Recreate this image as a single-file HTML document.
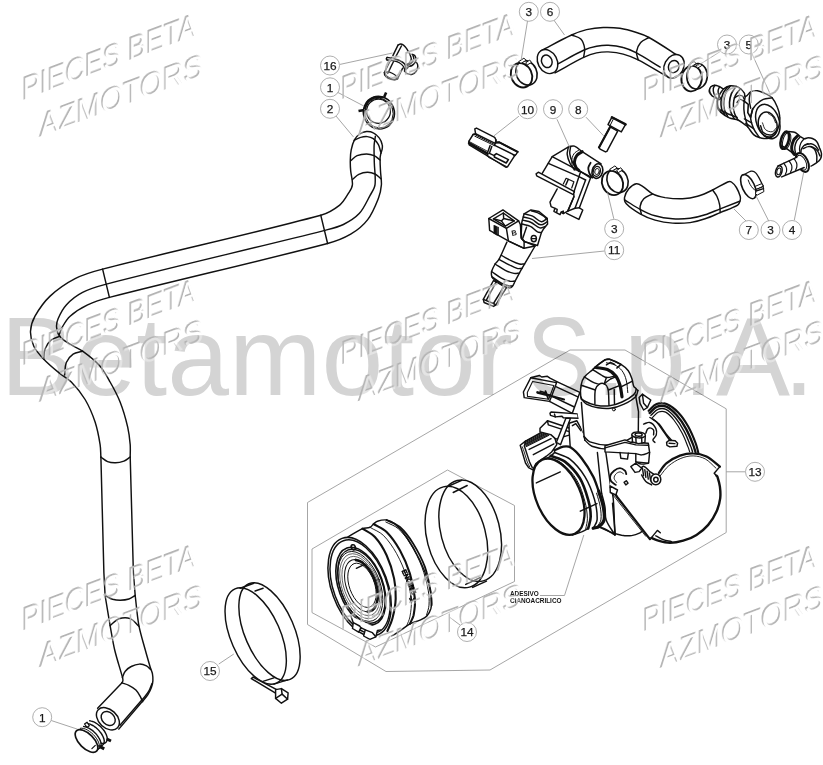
<!DOCTYPE html>
<html><head><meta charset="utf-8"><title>Betamotor</title>
<style>
html,body{margin:0;padding:0;background:#fff}
svg{display:block}
.l{fill:none;stroke:#111;stroke-width:1.45;stroke-linecap:round;stroke-linejoin:round}
.f{fill:#fff;stroke:#111;stroke-width:1.45;stroke-linecap:round;stroke-linejoin:round}
.t{fill:none;stroke:#333;stroke-width:0.6;stroke-linecap:round;stroke-linejoin:round}
.ld{fill:none;stroke:#9c9c9c;stroke-width:0.9}
.cc{fill:#fff;stroke:#9a9a9a;stroke-width:0.8}
.ct{font-family:"Liberation Sans",Arial,sans-serif;font-size:11.8px;fill:#1a1a1a;stroke:#1a1a1a;stroke-width:0.25;text-anchor:middle}
.wm{font-family:"Liberation Sans",Arial,sans-serif;font-size:32.6px}
.big{font-family:"Liberation Sans",Arial,sans-serif;font-size:108px;fill:#d4d4d4}
</style></head><body>
<svg width="823" height="765" viewBox="0 0 823 765">
<rect width="823" height="765" fill="#fff"/>
<path class="ld" d="M307.5 502.5 L570 350 L625 350 L726.2 408.8 L726.2 532.5 L490 670 L386 671.5 L307.5 624.5Z"/>
<path class="ld" d="M312 549 L447.5 470 L514.5 505.5 L514.5 581.5 L375.5 647 L312 612.6Z"/>

<path class="l" d="M380.9 153.2 C381.4 151.8 382 150.4 382.2 148.9 C382.4 147.5 382.6 146 382.2 144.7 C381.6 142.3 380.7 139.8 379.2 137.9 C377.7 135.8 375.6 133.9 373.3 132.8 C371.2 131.7 368.8 131.3 366.5 131.5 C364.1 131.7 361.7 132.7 359.7 134 C357.6 135.4 355.8 137.4 354.6 139.6 C352.9 142.7 351.9 146.3 351.2 149.8 C350.4 153.4 350.4 157.1 350.3 160.8 C350.2 164.2 350.4 167.6 350.7 171 C351.1 175.7 352.9 180.3 352.4 184.9 C352.2 187.8 350.3 190.4 348.7 192.9 C346 197.2 343.7 201.9 339.7 205.1 C334.1 209.5 327.7 213.4 320.8 215.3 C248.5 234.8 175.2 250.4 102.6 269.1 C93.2 271.5 83.7 274.2 75.1 278.6 C66 283.3 57.5 289.2 50.1 296.1 C44 301.8 39.1 308.9 35 316.2 C32.5 320.7 30.8 325.9 30.5 331.2 C30.3 336.3 31.6 341.6 33.8 346.2 C36.1 351.1 40 355.2 43.8 359.2 C48.8 364.5 54.5 369.1 60.1 373.7 C63.7 376.7 68.1 378.7 71.3 382 C76.5 387.3 81.3 393.1 85.1 399.5 C89.3 406.6 92.5 414.3 95.1 422 C97.5 429.3 98.9 437 100.1 444.6 C100.8 448.7 100.6 452.9 100.9 457.1"/>
<path class="l" d="M100.9 457.1 L103.9 573 L105.1 595.5"/>
<path class="l" d="M105.1 595.5 C106.8 605.5 108.4 615.6 110.1 625.6 C111.6 633.7 112.8 641.9 114.7 650 C116.9 659.1 119.9 668 122.4 677.1 C122.7 678.3 123.1 679.6 122.9 680.8 C122.9 681.6 122.2 682.2 121.8 682.9"/>
<path class="l" d="M121.8 682.9 L97.6 708.2"/>
<path class="l" d="M375.4 136.2 C375 139.3 374.3 142.4 374.1 145.5 C373.9 151.2 374.2 156.9 374.3 162.5 C374.5 170 375.9 177.5 375 184.9 C374.5 188.7 372 192 370.1 195.3 C366.7 201.5 364 208.3 359.2 213.6 C354.8 218.3 349.1 221.7 343.4 224.5 C337.3 227.4 330.5 228.9 323.9 230.6 C251.5 248.8 178.7 265.6 106.4 284.1 C98.3 286.2 90 288.5 82.6 292.4 C76.5 295.5 71 299.9 66.3 304.9 C62.7 308.8 60.2 313.7 58.1 318.7 C56.9 321.4 56.3 324.5 56.6 327.4 C56.8 330.5 57.6 333.8 59.6 336.2 C62.3 339.6 66.4 341.8 70.1 344.2 C74.1 346.8 78.7 348.4 82.6 351.2 C88.8 355.7 95 360.5 100.1 366.2 C104.3 370.9 107.1 376.5 110.1 382 C113.8 388.5 117.4 395.1 120.1 402 C123.3 410.1 125.7 418.6 127.7 427.1 C129 432.8 129.7 438.7 130.2 444.6 C130.5 448.7 130.2 452.9 130.2 457.1"/>
<path class="l" d="M380.9 153.2 C380.6 154.9 380.1 156.6 380.1 158.3 C380 162.5 380.3 166.8 380.5 171 C380.7 175.7 381.7 180.3 381.4 184.9 C381 189.3 380.2 193.7 378.6 197.8 C375.6 205.3 372.6 213.2 367.7 219.6 C363.1 225.6 357.1 230.4 350.7 234.2 C343.5 238.4 335.6 241.4 327.6 243.5 C255.1 262.4 182 278.8 109.4 297.4 C101.9 299.3 94.5 301.6 87.6 304.9 C81.3 307.9 75.3 311.6 70.1 316.2 C66.6 319.2 64.4 323.5 62.1 327.4 C60.7 329.7 60.1 332.3 59.1 334.7"/>
<path class="l" d="M130.2 457.1 L133.4 573 L135.2 595.5"/>
<path class="l" d="M135.2 595.5 C136.4 605.5 137.1 615.6 138.9 625.6 C140.5 633.8 143.1 641.9 145.3 650 C146.8 655.5 148.4 661 150 666.5 C150.7 668.8 151.8 671.1 152.4 673.5 C152.8 675.8 153.1 678.2 152.9 680.6 C152.8 683 152.2 685.4 151.4 687.6 C150.5 690.1 149.3 692.5 147.9 694.7 C146.5 696.9 144.6 698.8 142.9 700.8"/>
<path class="l" d="M142.9 700.8 L118.8 729.1"/>
<path class="l" d="M152 683.5 C150.9 686.1 150.2 688.8 148.8 691.2 C147.4 693.7 145.4 695.9 143.5 698.2 C143 698.9 142.4 699.4 141.8 700"/>
<path class="l" d="M141.8 700 L120 725.3"/>
<path class="l" d="M320.8 215.3 L327.6 243.5"/>
<path class="l" d="M102.6 269.1 L109.4 297.4"/>
<path class="l" d="M350.7 160.8 C352.9 159.1 354.6 156.8 357.1 155.7 C360 154.5 363.3 154 366.5 154 C369.1 154 371.7 154.7 374.1 155.7 C376.4 156.7 378.1 158.6 380.1 160"/>
<path class="l" d="M352.4 179.5 C354.6 177.8 356.4 175.6 358.8 174.4 C361.4 173.2 364.4 172.4 367.3 172.3 C369.9 172.2 372.6 172.9 375 174 C377.3 175.1 378.9 177.1 380.9 178.7"/>
<path class="l" d="M354.1 140.4 C356.3 139.4 358.3 138.1 360.5 137.4 C362.7 136.8 365 136.4 367.3 136.6 C369.4 136.8 371.6 137.5 373.3 138.7 C375.4 140.3 377.1 142.4 378.4 144.7 C379.6 146.9 379.9 149.5 380.7 151.9"/>
<path class="l" d="M43.8 359.2 C44.2 355.7 43.8 352 45.1 348.7 C46.4 345.3 48.6 342.2 51.3 339.9 C53.8 337.9 57.2 337.4 60.1 336.2"/>
<path class="l" d="M64.6 375 C65.2 370.8 64.7 366.4 66.3 362.5 C67.7 359.2 70.2 356.2 73.1 354.2 C75.8 352.3 79.4 352.2 82.6 351.2"/>
<path class="l" d="M100.9 457.1 C103.1 458.6 105.1 460.6 107.6 461.6 C110.1 462.6 112.9 462.9 115.6 462.8 C118.5 462.8 121.3 462.1 123.9 461.1 C126.2 460.2 128.1 458.4 130.2 457.1"/>
<path class="l" d="M105.1 595.5 C107.6 596.8 110 598.4 112.6 599.3 C115 600 117.6 600.3 120.1 600.3 C123.1 600.2 126.1 599.9 128.9 599 C131.2 598.3 133.1 596.7 135.2 595.5"/>
<path class="l" d="M110.1 625.6 C113.1 623.3 115.4 620 118.9 618.8 C122.4 617.6 126.6 617.2 130.2 618.6 C133.8 619.9 136 623.7 138.9 626.3"/>
<path class="l" d="M122.4 677.6 C123.3 675.5 123.8 673 125.3 671.2 C126.9 669.2 128.9 667.6 131.2 666.5 C133.7 665.2 136.6 664.2 139.4 664.1 C141.8 664 144.3 664.8 146.5 665.9 C148.1 666.7 149.2 668.2 150.6 669.4"/>
<path class="l" d="M121.8 682.9 C124.1 683.7 126.6 684.2 128.8 685.3 C131.4 686.6 133.9 688 135.9 690 C137.9 692 139.2 694.6 140.6 697.1 C141.4 698.5 141.9 700.2 142.6 701.8"/>
<ellipse class="l" cx="107.9" cy="718.8" rx="9.1" ry="13.2" transform="rotate(-47.1 107.9 718.8)"/>
<ellipse class="l" cx="108.2" cy="718.5" rx="6.1" ry="7.9" transform="rotate(-45 108.2 718.5)"/>

<path class="f" d="M384.4 72.5 C386.6 67 391 62.4 392.3 56.7 C392.7 54.7 389 59.3 387.1 60 C386.7 60.2 386.4 59.3 386.4 58.8 C386.4 58.3 386.6 57.6 387.1 57.4 C388.8 56.6 391.3 57.4 392.6 56 C395.3 53 395.8 48.5 398 45.1 C398.5 44.4 399.6 44 400.5 44 C401.6 44 402.6 44.5 403.5 45.1 C404.6 45.9 405.5 47 406.3 48.2 C407.5 49.9 408.1 52.1 409.6 53.6 C410.2 54.2 411.2 53.9 412 54.2 C413 54.6 414.1 54.8 414.8 55.6 C415.5 56.5 415.9 57.8 416 59.1 C416.1 60.1 415.1 61.1 415.4 62.1 C415.5 62.7 416.6 62.5 416.9 63 C417.5 64 417.9 65.2 417.8 66.4 C417.7 68.1 417.3 69.9 416.3 71.2 C415.2 72.6 413.7 73.8 412 74.3 C410.4 74.7 408.7 74.3 407.2 73.7 C406 73.1 405 72.1 404.4 70.9 C404.1 70.4 405.1 69.6 404.7 69.1 C404.3 68.5 403.1 67.6 402.6 68.2 C400.3 71.4 399.9 75.7 397.6 78.8 C396.8 79.9 395.1 80 393.8 79.9 C391.7 79.7 389.6 79 387.7 77.9 C386.5 77.2 385.5 76.1 384.8 74.9 C384.4 74.2 384.1 73.2 384.4 72.5Z" style="stroke:none"/>
<path class="l" d="M384.4 72.5 L391.9 57.4"/>
<path class="l" d="M392.9 55.6 L398 45.1"/>
<path class="l" d="M398 45.1 C398.9 44.7 399.6 44 400.5 44 C401.6 44 402.6 44.5 403.5 45.1 C404.6 45.9 405.5 47 406.3 48.2 C407.5 49.9 408.5 51.8 409.6 53.6"/>
<path class="l" d="M387.7 73.4 L393.5 61.5"/>
<path class="l" d="M395.6 57 L401.4 46"/>
<path class="l" d="M397.6 78.8 L402.6 68.2"/>
<path class="l" d="M384.4 72.5 C384.5 73.4 384.3 74.4 384.8 75.2 C385.6 76.4 386.8 77.4 388 78 C389.8 79 391.8 79.7 393.8 79.9 C395.1 80 396.3 79.2 397.6 78.8"/>
<ellipse class="l" cx="391.1" cy="75.6" rx="6.2" ry="2.6" transform="rotate(25 391.1 75.6)" style="stroke-width:1.2"/>
<path class="l" d="M387.1 57.4 C389.1 57.7 391.2 57.9 393.2 58.4 C395.3 58.9 397.3 59.4 399.3 60.3 C401.2 61.3 403.3 62.3 404.7 63.9 C405.6 64.9 405.5 66.4 405.8 67.6" style="stroke-width:1.5"/>
<path class="l" d="M387.1 60 C389.3 60.3 391.6 60.4 393.8 60.9 C395.7 61.3 397.6 61.8 399.3 62.7 C400.8 63.6 402.2 64.7 403.2 66.1 C404.1 67.2 404.2 68.7 404.7 70" style="stroke-width:1.3"/>
<path class="l" d="M387.1 57.4 C386.8 57.9 386.3 58.2 386.3 58.8 C386.3 59.3 386.8 59.6 387.1 60"/>
<path class="l" d="M405.8 67.6 L404.7 70"/>
<path class="l" d="M409.6 53.6 C410.2 55.4 411.3 57.2 411.3 59.1 C411.3 60.4 410.5 61.7 409.6 62.7 C408.8 63.6 407.6 63.9 406.6 64.6"/>
<path class="l" d="M412 54.2 C412.9 54.7 414.1 54.8 414.8 55.6 C415.5 56.5 415.9 57.8 416 59.1 C416 60.2 415.8 61.3 415.2 62.2 C414.4 63.5 413.3 64.7 412 65.5 C411 66.1 409.6 66.1 408.4 66.4" style="stroke-width:1.5"/>
<path class="l" d="M412.9 55.3 C413.2 56.6 414.1 57.8 413.8 59.1 C413.5 60.7 412.3 62.2 411.1 63.3 C410.2 64.2 408.9 64.5 407.8 65"/>
<path class="l" d="M415.4 62.1 C415.9 62.4 416.6 62.5 416.9 63 C417.5 64 417.9 65.2 417.8 66.4 C417.7 68.1 417.3 69.9 416.3 71.2 C415.2 72.6 413.7 73.8 412 74.3 C410.4 74.7 408.7 74.3 407.2 73.7 C406 73.1 405.3 71.8 404.4 70.9"/>
<path class="l" d="M406.6 64.6 C407.2 65.2 408.4 65.5 408.4 66.4 C408.4 67.4 407.3 68.1 406.6 68.8 C406 69.3 405.3 69.6 404.7 70"/>

<ellipse class="l" cx="378.9" cy="112.7" rx="15.4" ry="16.4" transform="rotate(-20 378.9 112.7)" style="stroke-width:1.6"/>
<ellipse class="l" cx="379.1" cy="113" rx="14" ry="15" transform="rotate(-20 379.1 113)" style="stroke-width:0.9"/>
<ellipse class="l" cx="378.5" cy="111.2" rx="11.9" ry="12.1" transform="rotate(0 378.5 111.2)" style="stroke-width:1.3"/>
<path class="l" d="M384.2 97 L386.1 92.6" style="stroke-width:2.6;stroke-linecap:butt"/>
<path class="l" d="M364.5 109.9 L358.5 111.1" style="stroke-width:2.6;stroke-linecap:butt"/>
<path class="l" d="M364.9 108.1 C366 105.8 366.6 103.1 368.3 101.3 C370 99.4 372.3 98.1 374.7 97.4 C377.3 96.7 380.1 97.4 382.7 97.4" style="stroke-width:2.2"/>

<path class="l" d="M89.7 720.8 C90.2 720.9 90.8 720.9 91.3 721.1 C91.9 721.2 92.4 721.4 93 721.6 C93.6 721.8 94.2 722.1 94.8 722.4 C95.4 722.7 96 723.1 96.6 723.5 C97.2 723.9 97.8 724.3 98.4 724.8 C99 725.2 99.6 725.7 100.2 726.2 C100.7 726.8 101.3 727.3 101.8 727.9 C102.3 728.4 102.8 729 103.3 729.6 C103.7 730.2 104.2 730.8 104.6 731.4 C104.9 732 105.3 732.6 105.6 733.2 C105.9 733.8 106.2 734.4 106.4 735 C106.6 735.6 106.8 736.2 107 736.8 C107.1 737.3 107.2 737.8 107.2 738.4 C107.2 738.8 107.2 739.3 107.1 739.8 C107.1 740.2 107 740.6 106.8 741 C106.6 741.4 106.4 741.7 106.2 742 C105.9 742.3 105.6 742.6 105.3 742.8 C104.9 743 104.5 743.1 104.1 743.2 C103.7 743.4 103.2 743.4 102.8 743.4 C102.3 743.4 101.8 743.3 101.3 743.3" style="stroke-width:1.4"/>
<path class="l" d="M86.7 723.4 C87.2 723.4 87.8 723.5 88.3 723.6 C88.9 723.7 89.5 723.9 90 724.1 C90.6 724.4 91.2 724.7 91.8 725 C92.5 725.3 93.1 725.6 93.7 726 C94.3 726.4 94.9 726.9 95.5 727.3 C96.1 727.8 96.6 728.3 97.2 728.8 C97.8 729.3 98.3 729.9 98.8 730.4 C99.3 731 99.8 731.6 100.3 732.2 C100.8 732.7 101.2 733.3 101.6 734 C102 734.6 102.3 735.2 102.6 735.8 C102.9 736.4 103.2 737 103.4 737.6 C103.7 738.2 103.8 738.7 104 739.3 C104.1 739.8 104.2 740.4 104.2 740.9 C104.3 741.4 104.2 741.9 104.2 742.3 C104.1 742.8 104 743.2 103.8 743.6 C103.7 743.9 103.5 744.3 103.2 744.6 C102.9 744.9 102.6 745.1 102.3 745.3 C102 745.5 101.6 745.7 101.2 745.8 C100.7 745.9 100.3 746 99.8 746 C99.3 746 98.8 745.9 98.3 745.9" style="stroke-width:1.4"/>
<path class="l" d="M83.6 726.5 C84.1 726.6 84.7 726.6 85.2 726.8 C85.8 726.9 86.4 727.1 87 727.3 C87.6 727.6 88.2 727.9 88.8 728.2 C89.5 728.5 90.1 728.9 90.7 729.3 C91.3 729.7 92 730.2 92.6 730.6 C93.2 731.1 93.8 731.6 94.3 732.2 C94.9 732.7 95.4 733.3 96 733.9 C96.5 734.5 97 735.1 97.4 735.7 C97.9 736.3 98.3 736.9 98.7 737.6 C99.1 738.2 99.4 738.8 99.7 739.4 C100 740 100.3 740.6 100.5 741.3 C100.7 741.8 100.8 742.4 100.9 743 C101 743.5 101.1 744 101.1 744.6 C101.1 745.1 101 745.5 100.9 746 C100.8 746.4 100.7 746.8 100.5 747.2 C100.3 747.5 100 747.8 99.7 748.1 C99.4 748.4 99 748.6 98.7 748.7 C98.3 748.9 97.8 749 97.4 749.1 C96.9 749.1 96.4 749.1 95.9 749.1 C95.3 749.1 94.8 748.9 94.2 748.8" style="stroke-width:1.4"/>
<path class="l" d="M80.3 728.3 C80.8 728.2 81.3 728.2 81.9 728.2 C82.4 728.2 83 728.3 83.6 728.5 C84.2 728.6 84.9 728.9 85.5 729.1 C86.1 729.4 86.8 729.7 87.4 730 C88.1 730.4 88.8 730.8 89.4 731.3 C90.1 731.7 90.7 732.2 91.3 732.7 C92 733.3 92.6 733.8 93.2 734.4 C93.7 735 94.3 735.6 94.8 736.2 C95.4 736.9 95.9 737.5 96.3 738.2 C96.7 738.8 97.2 739.5 97.5 740.1 C97.9 740.8 98.2 741.4 98.5 742.1 C98.7 742.7 98.9 743.3 99.1 744 C99.2 744.5 99.3 745.1 99.4 745.7 C99.4 746.2 99.4 746.8 99.3 747.3 C99.2 747.7 99.1 748.2 98.9 748.6 C98.7 749 98.5 749.3 98.2 749.6 C97.9 749.9 97.5 750.2 97.1 750.3 C96.7 750.5 96.3 750.7 95.8 750.7 C95.3 750.8 94.8 750.8 94.3 750.8 C93.7 750.8 93.1 750.6 92.5 750.5" style="stroke-width:1.0"/>
<ellipse class="f" cx="86.5" cy="741" rx="14.3" ry="7.2" transform="rotate(45 86.5 741)" style="stroke-width:1.7"/>
<path class="f" d="M84.5 724 L87 722.2 L89.3 725.7 L87 727.4Z" style="stroke-width:1.2"/>
<path class="l" d="M106.6 738.9 L111 741" style="stroke-width:3;stroke-linecap:butt"/>
<path class="l" d="M100.1 746.6 L104.2 748.9" style="stroke-width:3;stroke-linecap:butt"/>
<path class="l" d="M91.9 748.7 L95.3 745.3" style="stroke-width:1.2"/>

<path class="f" d="M540.8 50.8 C551.1 45.5 561.1 39.8 571.6 35 C576.4 32.7 581.4 30.9 586.6 29.6 C592 28.4 597.7 27.7 603.2 27.5 C608.8 27.3 614.4 27.5 619.9 28.3 C625.5 29.2 631.1 30.8 636.5 32.5 C640.8 33.8 645.1 35.3 649 37.5 C659.7 43.5 675.3 45.8 680.2 57.1 C683.4 64.3 673.6 75.3 665.7 75.8 C655.1 76.6 647.6 64.8 638.2 59.9 C633.4 57.5 628.4 55.5 623.2 54.1 C618.3 52.8 613.3 52.2 608.2 51.9 C604.3 51.8 600.4 52.1 596.6 52.9 C592.1 53.9 587.7 55.5 583.6 57.4 C573.8 62.1 564.5 67.8 555 72.9" style="stroke:none"/>
<path class="l" d="M540.8 50.8 C551.1 45.5 561.1 39.8 571.6 35 C576.4 32.7 581.4 30.9 586.6 29.6 C592 28.4 597.7 27.7 603.2 27.5 C608.8 27.3 614.4 27.5 619.9 28.3 C625.5 29.2 631.1 30.8 636.5 32.5 C640.8 33.8 645.1 35.3 649 37.5 C659.7 43.5 669.8 50.5 680.2 57.1"/>
<path class="l" d="M665.7 75.8 C656.5 70.5 647.6 64.8 638.2 59.9 C633.4 57.5 628.4 55.5 623.2 54.1 C618.3 52.8 613.3 52.2 608.2 51.9 C604.3 51.8 600.4 52.1 596.6 52.9 C592.1 53.9 587.7 55.5 583.6 57.4 C573.8 62.1 564.5 67.8 555 72.9"/>
<path class="l" d="M557.5 64.1 C566.3 59.4 575 54.1 584.1 50 C588 48.2 592.3 47.1 596.6 46.3 C600.4 45.6 604.3 45.1 608.2 45.3 C613.3 45.5 618.3 46.1 623.2 47.5 C627.9 48.7 632.3 50.7 636.5 52.9 C644.7 57.3 652.3 62.4 660.2 67.1"/>
<path class="l" d="M571.6 35 C574.7 36.4 578.4 36.7 580.8 39.1 C583.1 41.5 584.1 45 584.6 48.3 C585.1 51.3 583.9 54.4 583.6 57.4"/>
<path class="l" d="M649 37.5 C646.2 39.1 642.8 40 640.7 42.5 C638.5 45 637 48.3 636.5 51.6 C636.1 54.4 637.6 57.2 638.2 59.9"/>
<ellipse class="f" cx="547.5" cy="61.6" rx="12.6" ry="9.6" transform="rotate(62 547.5 61.6)"/>
<ellipse class="l" cx="546.8" cy="61.3" rx="6.4" ry="5.2" transform="rotate(70 546.8 61.3)"/>
<ellipse class="f" cx="674" cy="66.3" rx="12.4" ry="9.6" transform="rotate(118 674 66.3)"/>
<ellipse class="l" cx="673.7" cy="66.6" rx="6.2" ry="5.2" transform="rotate(-70 673.7 66.6)"/>

<ellipse class="l" cx="526.5" cy="72.9" rx="10.3" ry="12.6" transform="rotate(-25 526.5 72.9)" style="stroke-width:1.6"/>
<ellipse class="l" cx="521.5" cy="75.3" rx="10.3" ry="12.6" transform="rotate(-25 521.5 75.3)" style="stroke-width:1.9"/>
<path class="f" d="M518.9 61.5 L523.9 58.2 L526.2 60.3 L521.2 63.2Z" style="stroke-width:1.0"/>
<path class="f" d="M525.9 62.7 L529.7 60 L531.5 62.4 L527.7 64.7Z" style="stroke-width:1.0"/>
<ellipse class="l" cx="697.1" cy="76.3" rx="10.2" ry="12.8" transform="rotate(6 697.1 76.3)" style="stroke-width:1.6"/>
<ellipse class="l" cx="691.6" cy="78.6" rx="10.2" ry="12.8" transform="rotate(6 691.6 78.6)" style="stroke-width:1.9"/>
<path class="f" d="M689 64.8 L694 61.5 L696.3 63.6 L691.3 66.5Z" style="stroke-width:1.0"/>
<path class="f" d="M696 66 L699.8 63.3 L701.6 65.7 L697.8 68Z" style="stroke-width:1.0"/>
<ellipse class="l" cx="617.5" cy="180.6" rx="10.3" ry="12.4" transform="rotate(-25 617.5 180.6)" style="stroke-width:1.6"/>
<ellipse class="l" cx="612.5" cy="183" rx="10.3" ry="12.4" transform="rotate(-25 612.5 183)" style="stroke-width:1.9"/>
<path class="f" d="M609.9 169.2 L614.9 165.9 L617.2 168 L612.2 170.9Z" style="stroke-width:1.0"/>
<path class="f" d="M616.9 170.4 L620.7 167.7 L622.5 170.1 L618.7 172.4Z" style="stroke-width:1.0"/>

<path class="l" d="M743.7 174.9 C746.1 173.7 748.3 172 751 171.2 C752 170.9 753.4 171.2 754.3 171.8 C755.8 172.8 757 174.3 757.9 175.8 C759.4 178.1 760.4 180.7 761.6 183.1 C762.1 184.2 762.7 185.2 763.3 186.2" style="stroke-width:1.3"/>
<ellipse class="l" cx="748.4" cy="186.6" rx="6.1" ry="13" transform="rotate(-25 748.4 186.6)" style="stroke-width:1.6"/>
<path class="l" d="M748.2 180 C748.8 181.5 749.3 183 750 184.3 C750.9 185.8 751.9 187.3 753.1 188.6 C753.8 189.3 754.7 189.8 755.5 190.4" style="stroke-width:1.0"/>
<path class="f" d="M755.5 186.2 L761.6 183.7 L763.3 186.2 L756.7 189.2Z" style="stroke-width:1.0"/>
<path class="f" d="M756.7 189.2 L763.3 186.7 L763.9 191.6 L757.2 195.1 L755.8 194Z" style="stroke-width:1.0"/>
<path class="l" d="M756.7 190.7 L763.5 188.6"/>

<path class="f" d="M709.4 89.7 C709.7 88.7 710 87.5 710.8 86.8 C711.9 85.9 713.3 85.4 714.7 85.3 C716.4 85.3 718 86 719.6 86.6 C721 87.2 722 88.8 723.5 88.9 C724.4 89 725 87.7 725.9 87.3 C727.3 86.7 728.7 86 730.3 85.8 C732.2 85.7 734.2 85.9 736.1 86.4 C737.7 86.9 739.2 87.7 740.5 88.7 C742 90 743.3 91.5 744.4 93.1 C745 94.1 744.2 96.8 745.3 96.5 C747.7 96.1 748.6 92.9 750.7 91.9 C752.8 90.9 755.2 90.4 757.5 90.7 C760.2 91 762.8 92.4 765.3 93.6 C767.7 94.8 770.3 95.7 772.1 97.7 C774.5 100.4 776.1 103.8 777.4 107.2 C778.7 110.3 779.6 113.6 779.8 116.9 C780.1 119.9 779.7 122.9 778.9 125.7 C778 128.8 777.1 132.1 775 134.4 C773 136.6 770.1 137.9 767.2 138.5 C764.6 139 761.9 138.3 759.4 137.5 C757.3 136.9 755.2 136.1 753.6 134.6 C751.2 132.4 749.9 129.3 747.8 126.9 C746.7 125.7 745.2 124.9 743.9 123.9 C742 122.6 740.2 120.9 738 120 C735.3 118.9 732 119.2 729.3 117.9 C726.1 116.5 723.2 114.4 720.6 112.1 C719.1 110.8 717.6 109.1 717.2 107.2 C716.5 104.7 716.7 101.9 717.4 99.4 C717.7 98.8 720 100 719.6 99.4 C718.9 98.6 717.6 98.9 716.7 98.5 C715 97.6 713.2 96.8 711.8 95.6 C710.8 94.6 709.9 93.4 709.4 92.2 C709.1 91.4 709.2 90.5 709.4 89.7Z"/>
<path class="l" d="M714.7 85.3 C714.2 86.5 713.4 87.5 713.3 88.7 C713.1 90.4 713.4 92.1 713.9 93.6 C714.6 95.4 715.8 96.8 716.7 98.5"/>
<path class="l" d="M719.6 86.6 C719.1 88 718.2 89.3 718.1 90.7 C718 92.3 718.3 94 718.8 95.6 C719.3 96.9 720.3 97.9 721 99.1"/>
<path class="l" d="M711 86.8 C710.6 87.8 709.6 88.7 709.7 89.7 C709.8 91.8 711.1 93.6 711.8 95.6" style="stroke-width:0.9"/>
<path class="l" d="M723.5 88.9 C722.2 90.8 720.5 92.5 719.6 94.6 C718.6 96.7 717.9 99 717.6 101.4 C717.4 103.3 717.5 105.4 718.1 107.2 C718.7 109 720.1 110.5 721 112.1"/>
<path class="l" d="M727.4 87 C725.9 89.2 724 91.2 723 93.6 C721.9 96.1 721.3 98.7 721 101.4 C720.8 104 721 106.7 721.7 109.2 C722.3 111.2 723.9 112.9 724.9 114.8" style="stroke-width:1.6"/>
<path class="l" d="M730.3 86 C728.8 88.2 726.9 90.2 725.9 92.6 C724.8 95.2 724.2 98.1 724 100.9 C723.7 103.6 723.8 106.5 724.4 109.2 C725.1 111.9 726.7 114.2 727.8 116.7"/>
<path class="l" d="M736.1 86.4 C734.6 88.8 732.5 91 731.4 93.6 C730.3 96.4 729.7 99.4 729.5 102.4 C729.3 105.3 729.7 108.3 730.5 111.1 C731.2 113.8 732.9 116.2 734.2 118.7" style="stroke-width:1.6"/>
<path class="l" d="M740.5 88.7 C738.8 91 736.5 93 735.3 95.6 C734.1 98.3 733.5 101.3 733.4 104.3 C733.2 107.2 733.5 110.2 734.4 113 C735.1 115.6 736.8 117.7 738 120"/>
<path class="l" d="M734.2 98 C735.6 97.2 736.9 95.9 738.5 95.6 C739.8 95.3 741.3 95.3 742.4 96 C743.5 96.8 743.7 98.3 744.4 99.4"/>
<path class="l" d="M737.1 102.4 C738 101.4 738.7 99.7 740 99.4 C741.3 99.2 742.5 100.4 743.7 100.9"/>
<path class="l" d="M718.6 109.2 L728.3 114 L737.1 117.4"/>
<path class="l" d="M745.3 96.5 C744.9 99.1 744 101.7 743.9 104.3 C743.7 107.5 743.8 110.8 744.4 114 C745.1 118.4 746.6 122.6 747.8 126.9"/>
<path class="l" d="M743.9 100.9 L748.3 104.3 L747.8 112.6 L750.5 117.4 L752.6 109.2" style="stroke-width:1.6"/>
<path class="l" d="M750.7 91.9 C750.2 94.4 749.2 96.9 749.2 99.4 C749.2 102.4 750.2 105.3 750.7 108.2"/>
<path class="l" d="M772.1 97.7 C769.2 98.3 766.1 98.3 763.3 99.4 C760.8 100.5 758.6 102.4 756.5 104.3 C755 105.7 753.9 107.5 752.6 109.2"/>
<path class="l" d="M752.6 109.2 C752 112.4 750.5 115.6 750.7 118.9 C750.9 122.3 752.2 125.5 753.6 128.6 C755.1 131.8 757.5 134.6 759.4 137.5"/>
<path class="l" d="M744.4 118.9 L751.7 122.8"/>
<path class="l" d="M745.8 123.3 L753.6 128.6"/>
<ellipse class="l" cx="767.8" cy="121.5" rx="11.3" ry="17.8" transform="rotate(-19.8 767.8 121.5)" style="stroke-width:1.5"/>
<ellipse class="l" cx="767.7" cy="124.5" rx="9.2" ry="12.6" transform="rotate(-14.6 767.7 124.5)" style="stroke-width:1.5"/>
<path class="l" d="M760.6 125.7 C761.5 128 761.5 130.9 763.3 132.5 C765.4 134.3 768.4 135.3 771.1 135 C773.2 134.8 774.3 132.4 776 131"/>
<path class="l" d="M762.5 122.8 C763.5 125 763.6 127.9 765.5 129.6 C767.2 131.2 769.9 132.1 772.3 131.7 C774.2 131.4 775.1 129 776.4 127.6" style="stroke-width:0.9"/>
<path class="l" d="M768.2 113.5 C769.8 114.7 771.8 115.4 773 116.9 C774.3 118.6 774.7 120.8 775.5 122.8" style="stroke-width:0.9"/>

<path class="f" d="M788.7 131.5 C790.9 131.2 793.2 131.7 795.2 132.5 C797.1 133.4 798.5 135.3 800.2 136.5 C801.5 137.3 802.7 138.4 804.2 138.7 C805.5 138.9 806.8 137.8 808.1 137.8 C809.6 137.8 811.1 137.9 812.4 138.5 C814 139.2 815.7 140.1 816.7 141.5 C818.2 143.4 818.8 145.8 819.6 148 C820.4 149.9 821.3 151.7 821.5 153.7 C821.6 155.5 821.3 157.3 820.5 158.8 C819.7 160.3 818.3 161.5 816.9 162.5 C815.1 163.9 813.1 165.1 811 166.1 C809.2 167 807.3 168.3 805.2 168.1 C803.1 168 801.1 166.7 799.5 165.2 C797.6 163.5 796.3 161.1 795.2 158.8 C794.4 157.2 794.9 155.1 793.7 153.7 C791.8 151.5 789 150.4 786.6 148.7 C785.1 147.7 783.2 147.3 782.2 145.8 C781.1 144.2 780.3 142.1 780.5 140.1 C780.6 137.9 781.4 135.6 783 134 C784.4 132.5 786.6 131.7 788.7 131.5Z" style="stroke:none"/>
<path class="l" d="M788.7 131.5 C790.9 131.8 793.2 131.7 795.2 132.5 C797.1 133.4 798.5 135.3 800.2 136.5 C801.5 137.3 802.7 138.4 804.2 138.7 C805.5 138.9 806.8 137.8 808.1 137.8 C809.6 137.8 811.1 137.9 812.4 138.5 C814 139.2 815.7 140.1 816.7 141.5 C818.2 143.4 818.8 145.8 819.6 148 C820.4 149.9 821.3 151.7 821.5 153.7 C821.6 155.5 821.3 157.3 820.5 158.8 C819.7 160.3 818.3 161.5 816.9 162.5 C815.1 163.9 813 164.9 811 166.1"/>
<path class="l" d="M782.2 145.8 C783.7 146.8 785.1 147.7 786.6 148.7 C789 150.4 791.4 152.1 793.7 153.7"/>
<ellipse class="l" cx="784.8" cy="140.2" rx="3.8" ry="8.8" transform="rotate(14.7 784.8 140.2)" style="stroke-width:2.6"/>
<ellipse class="l" cx="786.6" cy="141" rx="3.8" ry="8.8" transform="rotate(14.7 786.6 141)" style="stroke-width:1.0"/>
<path class="l" d="M797.7 135.8 C796.4 137.2 794.7 138.4 793.7 140.1 C792.7 142.1 792 144.3 791.7 146.6 C791.5 148.2 791.8 150 792.3 151.6 C792.7 152.7 793.7 153.5 794.5 154.5" style="stroke-width:3.0"/>
<path class="l" d="M800.2 136.9 C799 138.3 797.5 139.5 796.6 141.2 C795.6 143.1 795 145.2 794.8 147.3 C794.7 149.1 795 150.9 795.5 152.7 C795.9 153.7 796.7 154.3 797.3 155.2" style="stroke-width:1.4"/>
<path class="l" d="M804.2 138.7 C803.1 140.1 801.7 141.3 800.9 143 C800.1 144.8 799.6 146.7 799.5 148.7 C799.4 150.4 800 152.1 800.2 153.7" style="stroke-width:1.2"/>
<path class="l" d="M808.1 143.7 C806.7 144.4 805 144.8 803.8 145.8 C802.7 146.8 801.9 148.1 801.3 149.4 C800.9 150.3 801.1 151.4 800.9 152.3"/>
<path class="l" d="M805.2 144.8 C807.2 144.5 809.1 143.6 811 143.8 C812.6 144 814.1 144.8 815.3 145.8 C816.7 147 817.5 148.7 818.5 150.2"/>
<path class="l" d="M803.1 148.7 C804.8 148 806.3 146.8 808.1 146.6 C809.8 146.3 811.6 146.6 813.2 147.3 C814.9 148.1 816.3 149.4 817.5 150.9 C818.6 152.3 819.1 154.2 820 155.9"/>
<path class="l" d="M811 146.6 C812.2 147.5 813.7 148.2 814.6 149.4 C815.7 151.1 816.4 153.2 816.7 155.2 C817.1 157.5 816.7 160 816.7 162.4"/>
<ellipse class="f" cx="802.4" cy="162.4" rx="5.5" ry="10.1" transform="rotate(-24.9 802.4 162.4)" style="stroke-width:2.0"/>
<ellipse class="l" cx="801.6" cy="162.7" rx="4.3" ry="7.9" transform="rotate(-24.9 801.6 162.7)" style="stroke-width:1.0"/>
<path class="f" d="M777.6 166.1 L796.6 157.2 L804.2 167.5 L781.7 176.9Z" style="stroke:none"/>
<path class="l" d="M777.6 166.1 L796.5 157.3"/>
<path class="l" d="M781.7 176.9 L804.2 167.5"/>
<ellipse class="f" cx="778.8" cy="171.4" rx="3.1" ry="5.7" transform="rotate(14.4 778.8 171.4)" style="stroke-width:1.6"/>
<ellipse class="l" cx="778.8" cy="171.4" rx="1.9" ry="3.4" transform="rotate(14.4 778.8 171.4)" style="stroke-width:1.0"/>
<path class="l" d="M783.8 163.2 C784.7 164.6 785.8 165.9 786.3 167.4 C786.7 168.5 786.7 169.8 786.6 171 C786.4 172.3 785.7 173.4 785.3 174.6" style="stroke-width:1.2"/>
<path class="l" d="M789.1 160.9 C789.9 162.3 791.1 163.6 791.6 165.1 C792 166.3 792 167.6 791.8 168.8 C791.6 170.1 790.9 171.2 790.5 172.4" style="stroke-width:1.2"/>
<path class="l" d="M794.1 158.6 C794.9 160.1 796.1 161.4 796.6 163 C797 164.2 797 165.5 796.8 166.7 C796.7 167.9 796 169.1 795.5 170.3" style="stroke-width:1.2"/>

<path class="f" d="M636.3 183.8 C638.5 183.4 640.7 185.1 642.6 186.3 C646.1 188.5 648.8 191.9 652.6 193.8 C656.5 195.8 660.8 196.8 665.1 197.6 C670.9 198.5 676.8 199 682.6 198.8 C687.7 198.6 692.8 197.7 697.6 196.3 C702.8 194.8 707.8 192.4 712.6 190 C717.8 187.6 722.4 184.3 727.7 182 C728.8 181.5 730.4 181.4 731.4 182 C733.5 183.4 735.1 185.4 736.4 187.5 C738.1 190.3 739.3 193.3 740.2 196.3 C740.6 197.7 740.6 199.2 740.2 200.6 C739.7 202.2 739.2 204.2 737.7 205.1 C732.2 208.3 726 210.1 720.2 212.6 C715.2 214.7 710.3 217.1 705.1 218.8 C700.2 220.5 695.2 221.9 690.1 222.6 C684.3 223.3 678.4 223.5 672.6 223.1 C666.7 222.7 660.8 221.7 655.1 220.1 C649.9 218.6 644.8 216.5 640.1 213.8 C635.1 211 630.2 207.9 626.3 203.8 C624.8 202.2 624.2 199.7 624.5 197.6 C625.1 194.4 626.7 191.3 628.8 188.8 C630.8 186.5 633.3 184.3 636.3 183.8Z"/>
<path class="l" d="M625 200.1 C630 203.1 634.9 206.6 640.1 209.3 C644.9 211.9 649.8 214.3 655.1 215.8 C660.8 217.5 666.7 218.4 672.6 218.8 C678.4 219.2 684.3 219 690.1 218.3 C695.2 217.7 700.2 216.4 705.1 214.8 C710.3 213.2 715.1 210.8 720.2 208.8 C726.7 206.3 733.2 203.8 739.7 201.3"/>
<path class="l" d="M652.6 193.8 C649.7 195.5 646.2 196.4 643.8 198.8 C641.8 200.8 640.5 203.6 640.1 206.3 C639.6 208.8 640.9 211.3 641.3 213.8"/>
<path class="l" d="M712.6 190 C714.1 192.1 715.8 194 716.9 196.3 C718.2 199.1 719.1 202.1 719.7 205.1 C720.1 207.5 720 210.1 720.2 212.6"/>

<path class="f" d="M468.8 141.3 L473.1 134.5 L475.6 134 L474.8 128.9 L476.5 128.1 L494.7 137.4 L496 140 L495.9 142.5 L499.4 142.3 L517.7 151.9 L516.4 153.9 L514.7 155.7 L507.5 166.8 L506.2 167.3 L487.5 155.9 L469.2 144.8Z"/>
<path class="l" d="M476 134 L495.2 143.4 L496 140"/>
<path class="l" d="M475.6 135.1 L494.7 144.5" style="stroke-width:1.0"/>
<path class="l" d="M474.8 136.2 L494.2 145.5" style="stroke-width:1.0"/>
<path class="l" d="M473.1 134.5 L475.6 134"/>
<path class="l" d="M468.8 141.3 L487.5 151.3" style="stroke-width:0.9"/>
<path class="l" d="M469.1 143.1 L487.5 153.6" style="stroke-width:2.6"/>
<path class="l" d="M490.1 145.5 L487.5 152.7 L487.5 155.9"/>
<path class="l" d="M491.8 146.4 L489.4 153.3"/>
<path class="l" d="M494.2 145.5 L496 142.5"/>
<path class="l" d="M496 142.5 L499.4 142.3 L517.7 151.9" style="stroke-width:2.0"/>
<path class="l" d="M494.7 145.3 L514.9 155.3"/>
<path class="l" d="M489.4 153.3 L494.3 155.7"/>
<path class="l" d="M494.7 154.9 L496.4 153.6 L508.4 159.6 L506.2 163 L494.3 157Z" style="stroke-width:1.6"/>
<path class="l" d="M488.5 157.4 L506.4 166.4" style="stroke-width:0.9"/>
<path class="l" d="M514.7 155.7 L513 154.7"/>

<path class="f" d="M610.1 126.9 L599 147.4 L600.1 149.2 L605.5 151.9 L606.9 151.4 L617.7 131.2Z"/>
<path class="l" d="M610.1 126.9 L599 147.4" style="stroke-width:2.2"/>
<path class="f" d="M608 124.7 L611.9 117.2 L625.6 124.4 L621.3 131.9Z"/>
<path class="l" d="M611.9 117.2 L625.6 124.4" style="stroke-width:2.4"/>
<path class="l" d="M610 125.7 L613.6 118.5" style="stroke-width:1.0"/>

<path class="f" d="M536.1 173.9 L538.3 172.2 L542.2 173.3 L552.2 156.7 L568.9 146.7 L574.4 146.1 L582.2 151.7 L601.1 163.9 L602.8 168.9 L602.2 174.4 L598.9 177.8 L593.9 178.3 L590.6 177.8 L579.4 207.8 L582.8 210 L578.9 219.4 L566.7 213.3 L563.3 213.6 L561.1 212.2 L560 214.7 L553.9 211.3 L555 208.3 L551.1 206.7 L550 202.2 L557.2 188.9 L536.7 175.8Z" style="stroke:none"/>
<path class="f" d="M536.1 173.9 L538.3 172.2 L574.4 191.7 L573.3 194.7 L536.7 175.8Z"/>
<path class="l" d="M542.2 173.3 L552.2 156.7 L568.9 146.7"/>
<path class="l" d="M568.9 146.7 C570.7 146.5 572.7 145.5 574.4 146.1 C577.4 147.2 579.6 149.8 582.2 151.7"/>
<path class="l" d="M582.2 151.7 L601.1 163.9"/>
<path class="l" d="M577.8 170.2 L592.2 177.6"/>
<ellipse class="f" cx="597.4" cy="171.1" rx="5.2" ry="7.4" transform="rotate(15.3 597.4 171.1)" style="stroke-width:1.6"/>
<ellipse class="l" cx="596.8" cy="171.4" rx="3.5" ry="5" transform="rotate(15.3 596.8 171.4)" style="stroke-width:1.3"/>
<ellipse class="l" cx="597" cy="171.5" rx="2.2" ry="3.1" transform="rotate(15.3 597 171.5)" style="stroke-width:0.9"/>
<path class="l" d="M590.6 162.8 C589.8 164.4 588.5 166 588.3 167.8 C588.1 169.7 588.7 171.6 589.4 173.3 C590.1 174.9 591.4 176.1 592.4 177.6" style="stroke-width:1.8"/>
<path class="l" d="M582.2 151.7 C580.4 153 578 153.7 576.7 155.6 C575.3 157.4 574.6 159.9 574.4 162.2 C574.4 164.2 575.2 166.1 576.1 167.8 C576.7 168.9 578 169.6 578.9 170.6" style="stroke-width:3.0"/>
<path class="l" d="M578.9 150 C577.2 151.3 575 152.1 573.9 153.9 C572.5 156 571.8 158.6 571.7 161.1 C571.5 163.2 572.2 165.3 573.1 167.2 C573.7 168.6 575.1 169.4 576.1 170.6" style="stroke-width:1.0"/>
<path class="l" d="M568.3 147.2 C568 149.6 567 152 567.2 154.4 C567.5 157.5 568.7 160.5 570 163.3 C571.1 165.8 573 167.8 574.4 170"/>
<path class="l" d="M570.6 146.7 C570.3 149.1 569.5 151.5 569.8 153.9 C570.1 156.8 571.2 159.6 572.4 162.2 C573.6 164.7 575.3 166.8 576.7 169.1"/>
<path class="l" d="M552.2 156.7 L580.6 171.7 L578.9 176.7"/>
<path class="l" d="M548.3 163.3 L578.9 176.7 L573.9 192"/>
<path class="l" d="M580.6 171.7 L590.6 177.8"/>
<path class="l" d="M578.9 176.7 L585.6 180"/>
<path class="l" d="M590.6 177.8 L579.4 207.8 L582.8 210 L578.9 219.4 L566.7 213.3"/>
<path class="l" d="M585.6 180 L575 208.3 L579.4 207.8"/>
<path class="l" d="M575 208.3 L567.8 211.1"/>
<path class="l" d="M557.2 188.9 L550 202.2 L551.1 206.7 L555 208.3 L553.9 211.3 L560 214.7 L561.1 212.2 L563.3 213.6 L567.8 211.1 L573.9 196.7"/>
<path class="l" d="M573.9 194.7 L573.9 196.7 L567.8 211.1"/>
<path class="l" d="M555 208.3 L557.2 209.4 L556.7 212.2"/>
<path class="l" d="M561.1 212.2 L563.3 211.1 L563.3 213.6"/>
<path class="l" d="M563.3 183.9 L566.1 178.3 L573.9 181.7 L571.7 188" style="stroke-width:1.2"/>
<path class="l" d="M568.3 179.4 L565.8 185"/>

<path class="f" d="M493.5 280.5 L483.3 299.3 L484.1 302.5 L493.5 306.4 L495.9 304.8 L506.4 287.5Z"/>
<path class="l" d="M483.3 299.3 L493.5 303.5 L495.9 304.8"/>
<path class="l" d="M493.5 303.5 L503.7 286.8"/>
<path class="l" d="M496.4 281.6 L486.5 299.8"/>
<path class="f" d="M506.9 242.1 C504.2 247.8 502 253.7 499 259.3 C498.1 261.1 496.2 262.3 495.1 264 C493.7 266.4 492.3 268.9 491.6 271.5 C491.2 273.3 491.3 275.2 492 276.9 C492.5 278.3 493.9 279.2 495.1 280 C498.7 282.6 502.3 285.4 506.4 287.2 C508 287.9 510.2 288.2 511.6 287.2 C513.5 285.8 514 283.1 515.2 281 C517.4 276.9 519.5 272.8 521.8 268.7 C526.1 261.1 530.7 253.6 535.1 246"/>
<path class="l" d="M499 259.3 C502.4 261.1 505.8 263.1 509.2 264.8 C511.8 266.1 514.3 267.6 517.1 268.4 C518.7 268.9 520.4 268.4 522.1 268.4"/>
<path class="l" d="M501.4 255.4 C504.8 257.2 508.1 259.2 511.6 260.9 C514.1 262.1 516.7 263.4 519.4 264 C521.1 264.4 522.9 264 524.6 264"/>
<path class="l" d="M495.1 264 C498.5 266.1 501.7 268.5 505.3 270.3 C508 271.7 510.9 272.8 513.9 273.4 C515.7 273.8 517.6 273.2 519.4 273.1"/>
<path class="l" d="M491.6 271.5 C494.9 273.7 497.9 276.3 501.4 278.1 C504.1 279.6 507 280.7 510 281.3 C511.7 281.6 513.5 281.1 515.2 281"/>
<path class="l" d="M492 276.9 C495.1 279 498 281.4 501.4 283.2 C503.8 284.5 506.5 285.3 509.2 286 C510.2 286.2 511.3 286 512.4 286"/>
<path class="f" d="M524.1 213.8 L530.9 209.9 L539 211.5 L547.2 218.2 L547.6 224 L543.7 228.7 L541.4 232.6 L537.5 245.5 L524.1 241.4 L521 238.1 L521.8 222.5Z"/>
<path class="l" d="M524.1 213.8 C527 214.6 530 214.9 532.7 216.2 C535.8 217.6 538 221.1 541.4 221.7 C543.5 222 545.2 219.6 547.2 218.5"/>
<path class="l" d="M523.3 217 C526.2 217.7 529.2 218.1 532 219.3 C535.1 220.7 537.2 224.3 540.6 224.8 C543.1 225.2 545.2 222.7 547.5 221.7"/>
<path class="l" d="M522.5 220.1 C525.4 220.9 528.5 221.2 531.2 222.5 C534.3 223.9 536.5 227 539.8 227.9 C541.6 228.5 543.5 226.9 545.3 226.4"/>
<path class="l" d="M531.2 210.7 C533.3 211.3 535.5 211.7 537.5 212.6 C539.7 213.5 541.7 214.8 543.7 216.2 C544.6 216.8 545.3 217.7 546.1 218.5"/>
<path class="l" d="M521.8 224 C524.6 224.8 527.7 225 530.4 226.4 C533.1 227.7 534.9 230.4 537.5 231.9 C538.6 232.5 540.1 232.4 541.4 232.6"/>
<path class="l" d="M526.5 227.2 L522.5 238.9"/>
<ellipse class="l" cx="533.8" cy="238.6" rx="2.6" ry="3.2" transform="rotate(0 533.8 238.6)"/>
<path class="l" d="M531.5 238.6 L536.2 238.6"/>
<path class="l" d="M521 238.1 L524.1 241.4 L534.3 245.5"/>
<path class="f" d="M488.8 218.5 L502.9 209.9 L518.6 220.9 L520.5 224.8 L521 238.1 L524.1 241.4 L524.1 248.3 L509.2 241.4 L489.6 230.3Z"/>
<path class="l" d="M488.8 218.5 L506.4 228.3 L518.6 220.9"/>
<path class="l" d="M506.4 228.3 L508.4 240.8"/>
<path class="l" d="M493.5 218.8 L503.3 213 L514.2 220.9 L505.3 226.1Z"/>
<path class="l" d="M493.5 218.8 L501.4 220.9 L505.3 226.1"/>
<path class="l" d="M503.3 213 L503.7 218.5 L514.2 220.9"/>
<path class="l" d="M501.4 220.9 L503.7 218.5"/>
<path class="l" d="M494.3 225.6 L494.3 233.4"/>
<path class="l" d="M495.6 226.2 L495.6 234.1"/>
<path class="l" d="M496.8 226.8 L496.8 234.7"/>
<path class="l" d="M498.1 227.5 L498.1 235.3"/>
<path class="l" d="M509.2 241.4 L524.1 248.3 L535.1 246"/>
<path class="l" d="M520.5 224.8 L521.8 238.9 L525.2 242.1"/>
<text x="512" y="236.1" font-family="Liberation Sans, sans-serif" font-size="7.5" font-weight="bold" fill="#111" transform="rotate(-12 512 236.1)">B</text>

<ellipse class="l" cx="470.2" cy="530.7" rx="29.4" ry="51.8" transform="rotate(-14.6 470.2 530.7)"/>
<ellipse class="l" cx="456.4" cy="537" rx="29.4" ry="51.8" transform="rotate(-14.6 456.4 537)"/>
<path class="l" d="M447.7 486.5 L461.7 480.3"/>
<path class="l" d="M472.7 587.4 L486.5 581.1"/>
<path class="l" d="M453.2 492.5 L467.2 485.5"/>
<path class="l" d="M465.7 584.4 L480.2 577.6"/>

<path class="f" d="M347.5 537.3 C351.2 532.9 357.2 531 362.4 528.6 C364.8 527.6 367.6 528.3 369.9 527.3 C371.5 526.7 372.3 525 373.6 524 C374.8 523 375.9 521.6 377.4 521.2 C380.4 520.3 383.5 519.5 386.6 520 C389.6 520.5 392.6 522 394.9 524 C399.3 527.8 403.3 532.2 406.6 537 C411.6 544.3 416 552.2 419.9 560.3 C423.2 567.2 426 574.5 428.2 581.9 C429.8 587.3 431 592.9 431.5 598.6 C431.9 601.9 431.7 605.3 430.9 608.5 C430.1 611.3 428.8 614 426.9 616 C425 618 422.3 619.1 419.9 620.2 C416.7 621.7 413 622.1 409.9 623.9 C405.7 626.2 402.2 629.5 398.2 632.2 C396.1 633.6 394.1 635.7 391.6 636 C384.4 637 376.2 639.5 369.9 636 C356.8 628.6 344.2 618.3 336.6 605.2 C330.2 594 327.9 579.7 330 566.9 C331.8 555.6 340.1 546 347.5 537.3Z" style="stroke:none"/>
<path class="l" d="M347.5 537.3 C352.5 534.4 357.2 531 362.4 528.6 C364.8 527.6 367.6 528.3 369.9 527.3 C371.5 526.7 372.3 525 373.6 524 C374.8 523 375.9 521.6 377.4 521.2 C380.4 520.3 383.5 519.5 386.6 520 C389.6 520.5 392.6 522 394.9 524 C399.3 527.8 403.3 532.2 406.6 537 C411.6 544.3 416 552.2 419.9 560.3 C423.2 567.2 426 574.5 428.2 581.9 C429.8 587.3 431 592.9 431.5 598.6 C431.9 601.9 431.7 605.3 430.9 608.5 C430.1 611.3 428.8 614 426.9 616 C425 618 422.3 619.1 419.9 620.2 C416.7 621.7 413 622.1 409.9 623.9 C405.7 626.2 402.2 629.5 398.2 632.2 C396.1 633.6 393.8 634.7 391.6 636"/>
<path class="l" d="M385.8 522 C389.9 524.2 394.7 525.5 398.2 528.6 C403.2 533.1 407.2 538.7 410.7 544.5 C415.1 551.6 418.9 559.1 421.9 566.9 C424.7 574.5 426.7 582.3 428.2 590.2 C429.1 595.2 429.4 600.2 429 605.2 C428.8 608.6 427.4 611.9 426.5 615.2" style="stroke-width:1.0"/>
<path class="l" d="M386.6 520 C391 522.3 396.2 523.7 399.9 527 C405.2 531.7 409.5 537.6 413.2 543.6 C417.8 551 421.9 558.8 424.9 566.9 C427.8 575 429.2 583.5 430.7 591.9 C431.5 596.3 431.3 600.8 431.5 605.2" style="stroke-width:1.8"/>
<path class="l" d="M373.6 524 C377.9 526.6 383 528.4 386.6 532 C391.9 537.3 396.2 543.7 399.9 550.3 C404 557.7 407.4 565.5 409.9 573.6 C412.4 581.7 414.1 590.1 414.9 598.6 C415.4 604.1 414.6 609.7 413.6 615.2 C412.9 618.3 411.1 621 409.9 623.9" style="stroke-width:2.1"/>
<path class="l" d="M369.9 527.3 C374.4 530 379.6 531.7 383.3 535.3 C388.6 540.6 392.9 547 396.6 553.6 C400.7 561 404 568.9 406.6 576.9 C408.9 584.5 410.6 592.3 411.2 600.2 C411.7 605.8 410.9 611.4 409.9 616.9 C409.3 620.1 407.7 623 406.6 626" style="stroke-width:0.9"/>
<path class="l" d="M362.4 528.6 C366.6 531.4 371.6 533.3 374.9 537 C379.8 542.3 383.6 548.7 386.6 555.3 C390 562.7 392.4 570.6 394.1 578.6 C395.5 585.1 396 591.9 395.7 598.6 C395.5 605.3 394.1 612 392.4 618.5 C391.3 622.9 389.1 626.9 387.4 631" style="stroke-width:2.1"/>
<ellipse class="f" cx="359.6" cy="586.7" rx="28" ry="51.4" transform="rotate(-20 359.6 586.7)" style="stroke-width:1.5"/>
<ellipse class="l" cx="360.1" cy="586.7" rx="26.6" ry="48.9" transform="rotate(-20 360.1 586.7)"/>
<ellipse class="l" cx="360.8" cy="586.2" rx="22.1" ry="40.6" transform="rotate(-20 360.8 586.2)" style="stroke-width:1.6"/>
<ellipse class="l" cx="361.4" cy="586.2" rx="21" ry="38.6" transform="rotate(-20 361.4 586.2)"/>
<ellipse class="l" cx="360.4" cy="586.4" rx="19.9" ry="36.5" transform="rotate(-20 360.4 586.4)" style="stroke-width:0.9"/>
<ellipse class="l" cx="360.6" cy="586.2" rx="18.5" ry="33.9" transform="rotate(-20 360.6 586.2)" style="stroke-width:0.6"/>
<ellipse class="l" cx="360.9" cy="586" rx="16.8" ry="30.9" transform="rotate(-20 360.9 586)" style="stroke-width:0.6"/>
<ellipse class="l" cx="361.3" cy="585.7" rx="14.8" ry="27.3" transform="rotate(-20 361.3 585.7)" style="stroke-width:1.0"/>
<path class="l" d="M355.8 559.9 C356.4 560.1 357.1 560.2 357.8 560.4 C358.5 560.6 359.2 560.9 359.9 561.2 C360.6 561.6 361.3 562 362 562.4 C362.7 562.9 363.4 563.5 364.1 564 C364.8 564.7 365.5 565.3 366.2 566 C366.8 566.7 367.5 567.5 368.1 568.3 C368.8 569.1 369.4 570 370 570.8 C370.6 571.8 371.2 572.7 371.7 573.7 C372.2 574.6 372.8 575.6 373.2 576.7 C373.7 577.7 374.2 578.7 374.6 579.8 C375 580.9 375.4 582 375.7 583 C376 584.1 376.3 585.2 376.6 586.3 C376.8 587.4 377.1 588.5 377.2 589.6 C377.4 590.7 377.5 591.7 377.6 592.8 C377.7 593.9 377.7 594.9 377.7 595.9 C377.7 596.9 377.7 597.9 377.6 598.9 C377.5 599.8 377.3 600.7 377.1 601.6 C377 602.4 376.7 603.2 376.5 604.1 C376.2 604.8 375.9 605.5 375.5 606.2 C375.2 606.9 374.8 607.5 374.4 608.1 C374 608.6 373.5 609.1 373 609.5 C372.5 610 372 610.3 371.4 610.6 C370.9 610.9 370.3 611.2 369.7 611.3 C369.1 611.5 368.4 611.5 367.8 611.6" style="stroke-width:2.6"/>
<ellipse class="l" cx="362" cy="585.3" rx="12.6" ry="23.1" transform="rotate(-20 362 585.3)" style="stroke-width:0.9"/>
<path class="l" d="M356.3 568.3 L363.6 564.9"/>
<ellipse class="l" cx="353.3" cy="547.3" rx="2" ry="2.6" transform="rotate(-20 353.3 547.3)" style="stroke-width:1.6"/>
<text x="406.9" y="582.7" font-family="Liberation Sans, sans-serif" font-weight="bold" font-size="6.8" fill="#000" stroke="#000" stroke-width="0.5" text-anchor="middle" transform="rotate(66 406.9 582.7)">ENGINE</text>
<path class="l" d="M409.6 598.6 L411.6 601.9 L414.2 598.2"/>
<path class="l" d="M411.6 601.9 L410.9 596.1"/>
<path class="f" d="M350.8 616 L353.3 622.7 L352.5 628.5 L358.6 632.2 L360.8 627.7 L365.3 629.9 L363.6 636 L369.9 639.3 L375.8 636.8 L377.4 630.5 L380.8 629.9" style="stroke-width:1.4"/>
<path class="l" d="M353.3 622.7 L359.6 626 L360.8 627.7"/>
<path class="l" d="M365.3 629.9 L372.4 632.7 L375.8 636.8"/>

<ellipse class="l" cx="269.5" cy="631.6" rx="24.7" ry="52.1" transform="rotate(-23.3 269.5 631.6)"/>
<ellipse class="l" cx="255.7" cy="636" rx="24.7" ry="51.5" transform="rotate(-23.7 255.7 636)"/>
<path class="l" d="M240.1 588.3 L253.8 583.3"/>
<path class="l" d="M273.9 684.1 L287.6 679.9"/>
<path class="l" d="M255.1 591 L263.1 588.3"/>
<path class="l" d="M260.6 682.1 L273.9 677.9"/>
<path class="f" d="M251.3 678.6 L253.1 677.1 L278.1 690.4 L276.4 693.6Z"/>
<path class="f" d="M275.6 689.6 L281.4 688.6 L288.1 692.9 L287.6 699.2 L281.4 703.2 L275.6 698.4Z"/>
<path class="l" d="M281.4 688.6 L282.1 694.1 L287.6 699.2"/>
<path class="l" d="M282.1 694.1 L275.6 698.4"/>

<path class="f" d="M649.1 410 C650.7 407.2 653.6 405.1 656.6 404.1 C659.8 403.1 663.5 402.9 666.6 404.1 C671 405.9 674.9 409 678.2 412.5 C682.2 416.6 685.4 421.6 688.2 426.6 C691.2 431.9 693.6 437.6 695.7 443.3 C697 446.8 701.4 451.7 698.5 454.1 C693.8 458.1 685.9 458.5 679.9 456.6 C670.4 453.5 661.3 447.6 654.9 439.9 C650.1 434.1 649.7 425.7 648.3 418.3 C647.7 415.6 647.7 412.4 649.1 410Z" style="stroke:none"/>
<path class="l" d="M648.6 410.8 C651.3 408.6 653.3 405.3 656.6 404.1 C659.7 403 663.5 402.9 666.6 404.1 C671 405.9 674.9 409 678.2 412.5 C682.2 416.6 685.4 421.6 688.2 426.6 C691.2 431.9 693.5 437.6 695.7 443.3 C697 446.6 697.6 450.1 698.5 453.6" style="stroke-width:2.1"/>
<path class="l" d="M649.6 413 C652.1 410.9 654 407.8 657.1 406.6 C660 405.6 663.4 405.4 666.3 406.6 C670.3 408.4 673.6 411.7 676.6 415 C680.4 419.2 683.5 424.1 686.2 429.1 C689 434.2 691.1 439.6 693.2 444.9 C694.2 447.4 694.8 449.9 695.6 452.4" style="stroke-width:2.3"/>
<path class="l" d="M650.9 415.3 C653.3 413.3 655.1 410.4 657.9 409.3 C660.4 408.3 663.5 408.2 665.9 409.3 C669.7 411.1 672.6 414.3 675.2 417.5 C678.8 421.7 681.6 426.4 684.2 431.3 C686.8 436.1 688.7 441.2 690.7 446.3 C691.5 448.1 691.9 450 692.6 451.9" style="stroke-width:1.4"/>
<path class="l" d="M652.3 417.6 C654.4 415.7 656 413 658.6 412 C660.8 411.1 663.5 411.1 665.6 412.1 C669 413.9 671.6 417 673.9 420 C677.1 424.1 679.8 428.6 682.2 433.3 C684.6 437.8 686.3 442.7 688.2 447.4 C688.8 448.8 689.1 450.2 689.6 451.6" style="stroke-width:1.2"/>
<path class="l" d="M649.9 417.5 C652.2 419 654.8 420 656.6 422 C659.5 425.1 661.6 429 664.1 432.4 C666.3 435.5 668.5 438.5 670.7 441.6"/>
<path class="l" d="M652.9 419.1 C655 420.8 657.3 422.1 659.1 424.1 C661.8 427.2 663.7 430.9 666.3 434.1 C668.2 436.6 670.5 438.9 672.6 441.3"/>
<path class="f" d="M666.6 442.4 L669.1 440.3 L675.2 440.8 L677.6 443.3 L676.9 446.3 L669.9 446.9 L666.9 445.3Z"/>
<path class="l" d="M669.1 443.3 L674.9 443.6"/>
<path class="f" d="M523.4 392 L530.7 377.8 L539.6 375.5 L541.7 377 L547.4 376.3 L550 378.1 L556.8 381.7 L579.8 392.4 L572.3 413.3 L549.5 401.4 L524.2 397.6Z"/>
<path class="l" d="M527.3 392.4 L532.6 381.5 L553.9 385.5 L548.7 399.3 L527.5 396.4Z" style="stroke-width:1.1"/>
<path class="l" d="M556.8 381.7 L555.3 386.4 L549.5 401.4"/>
<path class="l" d="M530.7 377.8 L556.3 382.6"/>
<path class="l" d="M555.3 386.4 L577.9 396.9"/>
<path class="l" d="M552.1 396.4 L574.4 407"/>
<path class="l" d="M537.5 392.4 L549.5 395.5" style="stroke-width:2.6"/>
<path class="l" d="M549.5 395.5 L564.1 399.5" style="stroke-width:2.0"/>
<path class="l" d="M545.5 391.1 L548.2 398.7" style="stroke-width:1.8"/>
<path class="l" d="M540.1 391.3 L546.4 393"/>
<path class="f" d="M550 413.3 L551.1 412 L577.7 413.9 L578.4 418.3 L563.3 417.8 L562 416.2 L555.3 416.9 L550.5 415.4Z"/>
<path class="l" d="M555.3 416.9 L554.5 414.1"/>
<path class="f" d="M520.2 445.3 L525.5 441.1 L545.3 430.1 L550.5 431.7 L554.7 437.4 L556.8 444.7 L551.6 452 L546.4 456.2 L535.9 463.5 L532.8 469.8 L528.6 467.7 L525.5 463 L521.3 448.9Z"/>
<path class="l" d="M524.7 441.8 L546.2 431.1" style="stroke-width:1.1"/>
<path class="l" d="M525 442.7 L546.7 432" style="stroke-width:1.1"/>
<path class="l" d="M525.4 443.7 L547.2 432.8" style="stroke-width:1.1"/>
<path class="l" d="M525.7 444.6 L547.7 433.6" style="stroke-width:1.1"/>
<path class="l" d="M526 445.6 L548.2 434.5" style="stroke-width:1.1"/>
<path class="l" d="M526.3 446.5 L548.8 435.3" style="stroke-width:1.1"/>
<path class="l" d="M529.1 449.4 L551.1 438.7"/>
<path class="l" d="M533.3 454.7 L553.9 443.9"/>
<path class="l" d="M524.4 446 C524.9 447.7 525.4 449.3 526 451 C527.2 454.7 528.3 458.4 529.6 462 C530.4 464 531.4 465.8 532.3 467.7"/>
<path class="l" d="M522.3 446.8 C522.9 448.6 523.6 450.3 524.2 452 C525.3 455.3 526.1 458.7 527.3 462 C527.9 463.6 528.9 465.1 529.6 466.7" style="stroke-width:0.9"/>
<path class="l" d="M525.5 441.1 L524.4 446"/>
<path class="f" d="M540 428.2 L547.5 420.8 L569.9 428.2 L569.9 434.9 L555.8 439.1 L550.8 434.6 L540 431.9Z"/>
<path class="l" d="M547.5 420.8 L548.3 424.9 L569.9 431.9"/>
<path class="f" d="M566 418.1 L556.3 442.4 L560.5 444.7 L570.4 418.5Z"/>
<path class="f" d="M571.5 427.7 L579 423.5 L583 437.1 L577.7 433Z"/>
<path class="l" d="M575.1 428.8 L577.7 427.5 L579 430.9" style="stroke-width:0.9"/>
<path class="f" d="M569.1 423.3 L576.9 420.8 L586.6 428.2 L641.5 434.9 L649.9 451.6 L649.9 464.9 L620 484.9 L610.8 487.5 L649.9 539.1 L642.4 530.8 L640 532.9 L630 535.9 L616.6 534.3 L600 527.4 L608.2 526.5 L598.2 526.5 L569.9 513.2 L569.1 430Z" style="stroke:none"/>
<path class="l" d="M569.1 423.3 L576.9 420.8 L583.6 433.2"/>
<path class="l" d="M569.1 423.3 L569.1 430 L570.3 448.3"/>
<path class="l" d="M572.4 425.7 L575.8 423.6 L580.8 430.7"/>
<path class="l" d="M597.4 452.5 L601.6 493.2"/>
<path class="l" d="M605.7 451.6 L610.7 486.6"/>
<path class="l" d="M601.6 493.2 C602.7 497.7 604.1 502.1 604.9 506.6 C605.7 511 604.7 515.7 606.2 519.9 C608.1 525.3 612 529.9 614.9 534.9"/>
<path class="l" d="M610.7 486.6 C611.5 490.5 612.9 494.3 613.2 498.2 C614.3 510.4 614.3 522.7 614.9 534.9"/>
<path class="l" d="M600 527.4 C603.3 528.9 606.6 530.7 610 531.9 C613.8 533.3 617.7 534.6 621.6 535.3 C624.9 535.8 628.3 536 631.6 535.6 C634.5 535.2 637.3 534.2 640 532.9 C641.4 532.2 642.4 530.7 643.6 529.6"/>
<path class="l" d="M612.5 503.3 L615.3 534.6"/>
<path class="l" d="M598.2 526.5 C600.5 527.4 602.8 528 604.9 529 C608.3 530.8 611.5 532.9 614.9 534.9"/>
<path class="f" d="M581.3 401.6 C572.4 409.2 581.6 425.1 584.1 436.6 C584.6 439.1 587.4 441 589.9 441.9 C595.7 444 602 445.2 608.2 445.2 C613.3 445.2 618.3 443.5 623.2 441.9 C626.3 440.9 629.5 439.6 631.9 437.4 C635.7 433.8 641.1 430.2 641.5 424.9 C642.4 414 645.9 396.4 635.7 392.5 C618.5 385.8 595.2 389.7 581.3 401.6Z" style="stroke:none"/>
<path class="l" d="M581.4 402.4 L584.1 436.6"/>
<path class="l" d="M635.5 395 L638.5 411.6 L638.3 431.6"/>
<path class="l" d="M584.1 436.6 C586 438.3 587.4 441 589.9 441.9 C595.7 444 602 445.2 608.2 445.2 C613.3 445.2 618.3 443.5 623.2 441.9 C626.3 440.9 629 438.9 631.9 437.4"/>
<path class="l" d="M584.9 440.2 C587.2 442.2 589 445.2 591.9 446.2 C597.6 448.3 603.8 449.3 609.9 449.2 C615 449.1 620 447.4 624.9 445.7 C627.6 444.8 629.9 442.9 632.4 441.6"/>
<path class="l" d="M584.1 436.6 L584.9 440.2"/>
<path class="f" d="M580.8 396.8 C580 392.7 580.5 388.4 581.3 384.3 C581.8 381.7 582.8 379 584.4 377 C586.7 374 590 372.1 592.8 369.6 C593.9 368.6 594.8 367.4 595.9 366.5 C598.9 364.1 601.9 361.5 605.3 359.7 C606.6 359 608.2 358.8 609.5 359.2 C613.5 360.4 617.4 362.2 621 364.4 C623.7 366.1 626.4 368.1 628.3 370.7 C630.1 373.1 631 376.2 632 379 C632.8 381.4 632.8 384.1 633.8 386.4 C634.2 387.5 636.2 387.8 636.2 389 C636.1 391.1 635.1 393.5 633.5 394.9 C630.2 398 626.2 400.2 622 402 C618.1 403.8 613.8 405.3 609.5 405.8 C605 406.4 600.4 406 595.9 405.2 C591.9 404.4 588 403 584.4 401 C582.8 400.1 581.1 398.6 580.8 396.8Z"/>
<path class="l" d="M581.3 398.9 C583 400.7 584.3 403 586.5 404.1 C590.1 406 594 407.1 598 407.8 C602.1 408.5 606.4 408.9 610.5 408.3 C615.2 407.7 619.8 406.1 624.1 404.1 C628.3 402.2 632.4 400 635.6 396.8 C637.2 395.3 637.2 392.6 637.9 390.5"/>
<path class="l" d="M636.2 389 L637.9 390.5"/>
<path class="l" d="M580.8 396.8 L581.3 398.9"/>
<path class="l" d="M595.9 367.5 C599.7 368.2 603.8 368.1 607.4 369.6 C610.6 371 613.6 373.2 615.8 375.9 C617.9 378.6 619 382 620 385.3 C621.1 389.1 621.4 393 622 396.8" style="stroke-width:3.2"/>
<path class="l" d="M606.4 362.8 C609.2 363.5 612.2 363.6 614.7 364.9 C617.5 366.3 620.2 368.2 622 370.7 C624.1 373.4 625.4 376.8 626.2 380.1 C627.3 384.2 627.3 388.5 627.8 392.6" style="stroke-width:1.0"/>
<path class="l" d="M592.8 369.6 L595.9 366.5 L605.3 359.7"/>
<path class="l" d="M605.3 359.7 L609.5 359.2 L621 364.4 L616.8 368.1"/>
<path class="l" d="M606.4 364.9 L610.5 362.3 L614.7 364.4"/>
<path class="l" d="M594.9 404.1 C595 399.3 594.4 394.3 595.4 389.5 C595.8 387.4 597.3 385.4 599 384.3 C600.5 383.3 602.7 383 604.3 383.8 C606.1 384.6 607.5 386.5 607.9 388.5 C609.1 393.9 608.6 399.6 609 405.2"/>
<path class="l" d="M581.3 385.3 L595.4 390"/>
<path class="l" d="M608.5 390 L620 385.3"/>
<path class="l" d="M622 386.4 L632.5 381.1"/>
<path class="l" d="M584.4 377 C587.2 378.7 589.8 380.7 592.8 382.2 C594.7 383.2 597 383.6 599 384.3"/>
<path class="l" d="M604.3 383.8 C606.4 382.2 608.3 380.4 610.5 379 C612.5 377.9 614.7 377.3 616.8 376.4"/>
<path class="l" d="M592.8 369.6 C595.6 371.4 598.3 373.2 601.1 374.9 C602.8 375.8 604.4 377.3 606.4 377.5 C609.5 377.7 612.6 376.4 615.8 375.9"/>
<path class="l" d="M606.4 377.5 L604.3 383.8"/>
<path class="l" d="M614.2 389.5 L614.5 404.1"/>
<ellipse class="l" cx="613.9" cy="409.4" rx="1.5" ry="1.5" transform="rotate(0 613.9 409.4)" style="stroke-width:1.0"/>
<path class="f" d="M605 445.8 L625 439.9 L630.8 442.4 L648.3 443.3 L649.6 452.4 L648.6 463.2 L635.8 461.9 L635.8 453.6 L605 451.9Z"/>
<path class="l" d="M605 447.9 L625 442.4 L635.8 444.9 L648.6 445.3"/>
<path class="l" d="M635.8 453.6 C637.7 454 639.6 455.1 641.6 454.9 C644.4 454.7 646.9 453.3 649.6 452.4"/>
<path class="l" d="M635.8 461.9 C637.7 462.6 639.6 463.9 641.6 464.1 C644 464.3 646.3 463.5 648.6 463.2"/>
<path class="l" d="M620 452.4 L620.8 458.2 L627.5 459.1 L628.3 453.3"/>
<path class="f" d="M632 434.9 L632.5 441.9 L638.6 443.6 L644.9 442.4 L645.3 435.8Z"/>
<ellipse class="f" cx="638.6" cy="434.9" rx="6.8" ry="3" transform="rotate(3 638.6 434.9)"/>
<ellipse class="l" cx="638.6" cy="434.6" rx="3.6" ry="1.6" transform="rotate(3 638.6 434.6)"/>
<path class="l" d="M635.8 436.9 L636.1 442.9"/>
<path class="l" d="M641.6 436.9 L641.9 443.3"/>
<path class="f" d="M639.1 397.5 L642.4 394.2 L650.8 400 L647.4 407.5 L643.6 410 L640 403.3Z"/>
<path class="l" d="M642.4 394.2 L643.6 403.3 L647.4 407.5"/>
<path class="l" d="M643.6 424.1 C645.7 423.6 647.9 421.7 649.9 422.5 C652.5 423.3 654.5 425.8 655.8 428.3 C656.8 430.3 656.8 432.8 656.3 434.9 C655.8 436.9 653.3 438 652.9 439.9 C652.7 441 654.3 441.6 654.9 442.4"/>
<path class="l" d="M645.8 433.3 C646.6 431.6 646.6 429.1 648.3 428.3 C649.8 427.5 652.2 428.3 653.3 429.6 C654.4 431 653.5 433.2 653.6 434.9"/>
<path class="f" d="M532.5 474.9 C532.7 471.3 534.3 467.7 536.6 464.9 C539.2 462 543.4 460.9 546.6 458.6 C549.3 456.7 551.7 454.6 554.1 452.5 C555.1 451.6 555.5 450.2 556.6 449.6 C559.2 448.2 562 447 564.9 446.6 C567.2 446.4 569.7 446.7 571.6 448 C575.5 450.7 578.7 454.5 581.6 458.3 C585.9 464.1 589.9 470.2 593.2 476.6 C595.7 481.3 597.3 486.5 599.1 491.6 C600.8 496.5 602.7 501.4 603.6 506.6 C604.3 510.9 605 515.5 604.1 519.9 C603.4 522.6 601.5 525.2 599.1 526.5 C595.8 528.3 591.7 527.4 588.2 528.5 C582.8 530.2 578.1 534.6 572.4 534.9 C568 535.1 563.5 532.6 559.9 529.9 C554.1 525.2 549 519.5 545 513.2 C540.6 506.6 537.4 499.1 535 491.6 C533.2 486.2 532.1 480.5 532.5 474.9Z" style="stroke:none"/>
<path class="l" d="M554.5 450.3 C557.4 449.1 560.1 447.2 563.3 446.6 C565.7 446.2 568.6 446.1 570.8 447.5 C575.1 450.2 578.5 454.2 581.6 458.3 C586 464 589.9 470.2 593.2 476.6 C595.6 481.2 596.9 486.4 598.7 491.2" style="stroke-width:2.3"/>
<path class="l" d="M598.7 491.2 C600.2 496.4 602.3 501.3 603.2 506.6 C604 510.9 605 515.5 604.1 519.9 C603.5 522.6 601.3 524.8 599.1 526.5 C597.5 527.8 595.2 527.6 593.2 528.2" style="stroke-width:3.2"/>
<path class="l" d="M596.6 493.2 C597.8 497.7 599.5 502 600.2 506.6 C600.9 510.9 601.5 515.5 600.9 519.9 C600.5 522.4 598.6 524.3 597.4 526.5" style="stroke-width:1.0"/>
<path class="l" d="M554.5 452.5 C559.6 454.7 565.5 455.6 569.9 459.1 C575.9 463.9 580.9 470 584.9 476.6 C589.3 483.8 592.3 491.8 594.6 499.9 C596.4 506.4 597.4 513.2 597.1 519.9 C596.9 523 594.5 525.6 593.2 528.5" style="stroke-width:1.5"/>
<path class="l" d="M550.8 455.8 C555.5 457.7 560.9 458.5 564.9 461.6 C570.9 466.2 576 471.9 579.9 478.3 C583.9 484.9 586.1 492.5 588.2 499.9 C589.8 505.3 590.7 510.9 590.7 516.5 C590.7 520.6 589.1 524.5 588.2 528.5" style="stroke-width:2.6"/>
<path class="l" d="M548.3 457.5 C553 459.5 558.4 460.4 562.4 463.6 C568.2 468.2 573.2 473.9 576.9 480.3 C580.8 486.8 582.9 494.3 584.9 501.6 C586.4 507 587.2 512.6 587.4 518.2 C587.5 521.9 586.3 525.4 585.7 529" style="stroke-width:1.0"/>
<ellipse class="f" cx="558.5" cy="496.7" rx="22.2" ry="40.5" transform="rotate(-23.7 558.5 496.7)" style="stroke-width:2.3"/>
<path class="l" d="M536.3 482.9 L560.3 471.9"/>
<path class="l" d="M580.3 511.2 L596.9 503.6"/>
<path class="l" d="M572.4 534.9 C575.5 533.9 578.6 533.1 581.6 531.9 C583.9 530.9 586 529.6 588.2 528.5"/>
<path class="l" d="M546.6 458.6 C548 457.7 549.5 456.8 550.8 455.8 C552.1 454.8 553.5 453.8 554.5 452.5 C554.9 451.9 554.5 451 554.5 450.3"/>
<path class="f" d="M719.9 466.6 L714.2 473.2 L716.5 475.7 L717.4 476.7 L666.6 519.9 L633.3 495 L641.6 471.6 L658.3 473.6Z" style="stroke:none"/>
<path class="f" d="M658.3 473.6 C662.6 472.5 663.2 466 666.6 463.2 C670.5 460 675.1 457.5 679.9 455.7 C684.1 454.2 688.7 453.1 693.2 453.3 C697.8 453.4 702.4 454.5 706.5 456.6 C711.5 459.1 717.6 461.5 719.9 466.6 C722.6 472.7 719.8 480 719.9 486.6 C719.9 490.5 720.7 494.4 720.2 498.3 C719.6 502.9 718.4 507.4 716.5 511.6 C714.4 516.4 711.6 521 708.2 524.9 C704.9 528.8 700.9 532.2 696.5 534.9 C692.5 537.5 687.9 539.4 683.2 540.7 C678.9 542 674.4 542.9 669.9 542.9 C666 542.9 662.1 541.7 658.3 540.7 C655.7 540.1 652.5 540.2 650.8 538.3 C636.4 522.2 621.4 506.2 610.8 487.5 C608.6 483.6 611.4 477.4 615 474.9 C620 471.3 627.1 471.8 633.3 471.6 C641.6 471.3 650.2 475.6 658.3 473.6Z" style="stroke:none"/>
<path class="l" d="M658.3 473.6 C661 470.1 663.2 466 666.6 463.2 C670.5 460 675.1 457.5 679.9 455.7 C684.1 454.2 688.7 453.1 693.2 453.3 C697.8 453.4 702.4 454.5 706.5 456.6 C711.5 459.1 715.4 463.2 719.9 466.6" style="stroke-width:2.3"/>
<path class="l" d="M660.3 475.7 C663 472.4 665.3 468.7 668.6 465.9 C672.3 462.8 676.4 460.2 680.9 458.4 C684.8 456.8 689 455.8 693.2 455.9 C697.3 456 701.6 457 705.2 458.9 C709.4 461.2 712.4 465.1 716 468.2" style="stroke-width:0.9"/>
<path class="l" d="M719.9 466.6 L714.2 473.2 L716.5 475.7"/>
<path class="l" d="M716.5 475.7 C716.8 476 717.2 476.3 717.4 476.7 C718.4 479.9 719.4 483.2 719.9 486.6 C720.4 490.5 720.7 494.4 720.2 498.3 C719.6 502.9 718.4 507.4 716.5 511.6 C714.4 516.4 711.6 521 708.2 524.9 C704.9 528.8 700.9 532.2 696.5 534.9 C692.5 537.5 687.9 539.4 683.2 540.7 C678.9 542 674.4 542.9 669.9 542.9 C666 542.9 662.1 541.8 658.3 540.7 C655.8 540.1 653.6 538.9 651.3 537.9" style="stroke-width:2.4"/>
<path class="l" d="M651.3 537.9 L657.4 530.4 L660.3 532.8"/>
<path class="l" d="M655.8 535.8 C658.3 537 660.6 538.6 663.3 539.6 C665.9 540.6 668.8 540.9 671.6 541.6"/>
<path class="l" d="M610.8 487.5 L617.5 497.5 L649.9 539.1" style="stroke-width:2.3"/>
<path class="l" d="M613 495 L645.8 536.3" style="stroke-width:0.9"/>
<path class="f" d="M610 485.8 L610.3 492.5 L615.8 495 L617.5 490Z"/>
<path class="l" d="M615.8 484.9 C614.1 483.5 611.9 482.6 610.8 480.7 C610 479.3 609.8 477.3 610.3 475.7 C611 473.7 612.5 472 614.1 470.7 C615.8 469.4 617.9 468.2 620 468.2 C621.8 468.2 623.6 469.5 625 470.7 C625.8 471.5 625.9 472.9 626.3 474.1" style="stroke-width:1.8"/>
<path class="l" d="M616.6 482.4 C615.8 481 614.3 479.8 614.1 478.2 C614 476.7 614.8 475.2 615.8 474.1 C616.9 472.9 618.4 472 620 471.9 C621.2 471.8 622.2 473 623.3 473.6" style="stroke-width:0.9"/>
<path class="l" d="M624.1 482.4 L626.3 480.7 L628 483.2 L625.8 484.9Z"/>
<path class="f" d="M640.8 468.2 L649.9 463.2 L658.3 473.2 L651.6 480.7 L644.9 479.9Z" style="stroke:none"/>
<path class="l" d="M640 469.1 C641.2 468.1 642.1 465.9 643.6 466.2 C646.3 466.9 647.8 469.9 649.9 471.6 C651.1 472.5 652.4 473.2 653.6 474.1"/>
<path class="l" d="M641.6 474.9 C643 477.1 643.9 479.7 645.8 481.5 C647.4 483.1 649.7 483.8 651.6 484.9"/>
<path class="l" d="M642.4 467.9 L643.6 475.7" style="stroke-width:1.4"/>
<path class="l" d="M644.8 469.6 L645.9 477.4" style="stroke-width:1.4"/>
<path class="l" d="M647.1 471.2 L648.3 479.1" style="stroke-width:1.4"/>
<path class="l" d="M649.4 472.9 L650.6 480.7" style="stroke-width:1.4"/>
<ellipse class="f" cx="655.8" cy="479.4" rx="5" ry="5.4" transform="rotate(0 655.8 479.4)" style="stroke-width:1.5"/>
<ellipse class="l" cx="655.9" cy="479.6" rx="2.2" ry="2.4" transform="rotate(0 655.9 479.6)"/>
<path class="f" d="M630.8 466.6 L635.8 463.2 L641.6 468.2 L639.1 471.6 L635 472.4Z"/>

<g class="ld">
<path d="M340 64.4 L392.5 53"/>
<path d="M337 92 L363.8 106"/>
<path d="M336 116 L353.5 137"/>
<path d="M527.5 21 L521.2 60"/>
<path d="M553.8 20 L564.5 35"/>
<path d="M720.8 51.2 L697 66.2"/>
<path d="M752 53.8 L769.5 92.5"/>
<path d="M518.9 116.2 L494 135.8"/>
<path d="M557 119.3 L569.5 147.2"/>
<path d="M586 117.2 L603.6 135.8"/>
<path d="M613.8 218.8 L607.5 192.5"/>
<path d="M604.5 251 L532 258.5"/>
<path d="M746.2 221.2 L733.8 208.8"/>
<path d="M768.8 221.2 L756.2 196.2"/>
<path d="M794.3 220.2 L803.6 172.7"/>
<path d="M726.2 471.8 L745 471.8"/>
<path d="M460 625 L450 617.5"/>
<path d="M218.8 664 L233.8 654"/>
<path d="M51.2 720.5 L77.5 729.2"/>
<path d="M583.8 535 L564.5 595.5 L540 595.5"/>
</g>
<g class="cc">
<circle cx="330" cy="65.5" r="9.5"/>
<circle cx="330" cy="87.3" r="9.5"/>
<circle cx="330" cy="108.8" r="9.5"/>
<circle cx="528.8" cy="11.8" r="9.5"/>
<circle cx="550" cy="11.8" r="9.5"/>
<circle cx="727" cy="44.5" r="9.5"/>
<circle cx="748.8" cy="44.5" r="9.5"/>
<circle cx="527.5" cy="109.2" r="9.5"/>
<circle cx="553" cy="109.2" r="9.5"/>
<circle cx="578.2" cy="109.2" r="9.5"/>
<circle cx="614.2" cy="228.8" r="9.5"/>
<circle cx="614.2" cy="250.2" r="9.5"/>
<circle cx="748.8" cy="230" r="9.5"/>
<circle cx="770.5" cy="230" r="9.5"/>
<circle cx="792" cy="230" r="9.5"/>
<circle cx="755" cy="471.8" r="9.5"/>
<circle cx="467" cy="632" r="9.5"/>
<circle cx="210" cy="671" r="9.5"/>
<circle cx="42.2" cy="717.2" r="9.5"/>
</g>
<g class="ct">
<text x="330" y="69.7">16</text>
<text x="330" y="91.5">1</text>
<text x="330" y="113">2</text>
<text x="528.8" y="15.9">3</text>
<text x="550" y="15.9">6</text>
<text x="727" y="48.7">3</text>
<text x="748.8" y="48.7">5</text>
<text x="527.5" y="113.5">10</text>
<text x="553" y="113.5">9</text>
<text x="578.2" y="113.5">8</text>
<text x="614.2" y="232.9">3</text>
<text x="614.2" y="254.4">11</text>
<text x="748.8" y="234.2">7</text>
<text x="770.5" y="234.2">3</text>
<text x="792" y="234.2">4</text>
<text x="755" y="475.9">13</text>
<text x="467" y="636.2">14</text>
<text x="210" y="675.2">15</text>
<text x="42.2" y="721.5">1</text>
</g>
<text x="510" y="596.2" font-family="Liberation Sans, Arial, sans-serif" font-weight="bold" font-size="6.4" fill="#111">ADESIVO</text>
<text x="510" y="603.2" font-family="Liberation Sans, Arial, sans-serif" font-weight="bold" font-size="6.4" fill="#111">CIANOACRILICO</text>

<g class="big" style="font-size:111px;mix-blend-mode:multiply">
<text x="0.6" y="395">Betamotor</text>
<text transform="translate(526.6 395) scale(0.87 1)">S</text>
<text x="595.5" y="395">.</text>
<text x="624" y="395">p</text>
<text x="683" y="395">.</text>
<text x="716" y="395">A</text>
<text x="783.5" y="395">.</text>
</g>

<mask id="wmm" maskUnits="userSpaceOnUse" x="0" y="0" width="823" height="765"><rect width="823" height="765" fill="#fff"/><g class="wm"><g transform="translate(23.0 101.5) skewY(-20.6)">
<text x="0" y="0" textLength="174" lengthAdjust="spacingAndGlyphs" fill="#000">PIECES BETA</text>
<text x="17.4" y="42.8" textLength="163" lengthAdjust="spacingAndGlyphs" fill="#000">AZMOTORS</text>
</g>
<g transform="translate(341.8 100.7) skewY(-20.6)">
<text x="0" y="0" textLength="174" lengthAdjust="spacingAndGlyphs" fill="#000">PIECES BETA</text>
<text x="17.4" y="42.8" textLength="163" lengthAdjust="spacingAndGlyphs" fill="#000">AZMOTORS</text>
</g>
<g transform="translate(643.8 102.2) skewY(-20.6)">
<text x="0" y="0" textLength="174" lengthAdjust="spacingAndGlyphs" fill="#000">PIECES BETA</text>
<text x="17.4" y="42.8" textLength="163" lengthAdjust="spacingAndGlyphs" fill="#000">AZMOTORS</text>
</g>
<g transform="translate(23.0 366.7) skewY(-20.6)">
<text x="0" y="0" textLength="174" lengthAdjust="spacingAndGlyphs" fill="#000">PIECES BETA</text>
<text x="17.4" y="42.8" textLength="163" lengthAdjust="spacingAndGlyphs" fill="#000">AZMOTORS</text>
</g>
<g transform="translate(341.8 365.9) skewY(-20.6)">
<text x="0" y="0" textLength="174" lengthAdjust="spacingAndGlyphs" fill="#000">PIECES BETA</text>
<text x="17.4" y="42.8" textLength="163" lengthAdjust="spacingAndGlyphs" fill="#000">AZMOTORS</text>
</g>
<g transform="translate(643.8 367.4) skewY(-20.6)">
<text x="0" y="0" textLength="174" lengthAdjust="spacingAndGlyphs" fill="#000">PIECES BETA</text>
<text x="17.4" y="42.8" textLength="163" lengthAdjust="spacingAndGlyphs" fill="#000">AZMOTORS</text>
</g>
<g transform="translate(23.0 631.9) skewY(-20.6)">
<text x="0" y="0" textLength="174" lengthAdjust="spacingAndGlyphs" fill="#000">PIECES BETA</text>
<text x="17.4" y="42.8" textLength="163" lengthAdjust="spacingAndGlyphs" fill="#000">AZMOTORS</text>
</g>
<g transform="translate(341.8 631.1) skewY(-20.6)">
<text x="0" y="0" textLength="174" lengthAdjust="spacingAndGlyphs" fill="#000">PIECES BETA</text>
<text x="17.4" y="42.8" textLength="163" lengthAdjust="spacingAndGlyphs" fill="#000">AZMOTORS</text>
</g>
<g transform="translate(643.8 632.6) skewY(-20.6)">
<text x="0" y="0" textLength="174" lengthAdjust="spacingAndGlyphs" fill="#000">PIECES BETA</text>
<text x="17.4" y="42.8" textLength="163" lengthAdjust="spacingAndGlyphs" fill="#000">AZMOTORS</text>
</g></g></mask>
<g class="wm" mask="url(#wmm)"><g transform="translate(21.5 100.4) skewY(-20.6)">
<text x="0" y="0" textLength="174" lengthAdjust="spacingAndGlyphs" fill="#b4b4b4">PIECES BETA</text>
<text x="17.4" y="42.8" textLength="163" lengthAdjust="spacingAndGlyphs" fill="#b4b4b4">AZMOTORS</text>
</g>
<g transform="translate(340.3 99.6) skewY(-20.6)">
<text x="0" y="0" textLength="174" lengthAdjust="spacingAndGlyphs" fill="#b4b4b4">PIECES BETA</text>
<text x="17.4" y="42.8" textLength="163" lengthAdjust="spacingAndGlyphs" fill="#b4b4b4">AZMOTORS</text>
</g>
<g transform="translate(642.3 101.1) skewY(-20.6)">
<text x="0" y="0" textLength="174" lengthAdjust="spacingAndGlyphs" fill="#b4b4b4">PIECES BETA</text>
<text x="17.4" y="42.8" textLength="163" lengthAdjust="spacingAndGlyphs" fill="#b4b4b4">AZMOTORS</text>
</g>
<g transform="translate(21.5 365.6) skewY(-20.6)">
<text x="0" y="0" textLength="174" lengthAdjust="spacingAndGlyphs" fill="#b4b4b4">PIECES BETA</text>
<text x="17.4" y="42.8" textLength="163" lengthAdjust="spacingAndGlyphs" fill="#b4b4b4">AZMOTORS</text>
</g>
<g transform="translate(340.3 364.8) skewY(-20.6)">
<text x="0" y="0" textLength="174" lengthAdjust="spacingAndGlyphs" fill="#b4b4b4">PIECES BETA</text>
<text x="17.4" y="42.8" textLength="163" lengthAdjust="spacingAndGlyphs" fill="#b4b4b4">AZMOTORS</text>
</g>
<g transform="translate(642.3 366.3) skewY(-20.6)">
<text x="0" y="0" textLength="174" lengthAdjust="spacingAndGlyphs" fill="#b4b4b4">PIECES BETA</text>
<text x="17.4" y="42.8" textLength="163" lengthAdjust="spacingAndGlyphs" fill="#b4b4b4">AZMOTORS</text>
</g>
<g transform="translate(21.5 630.8) skewY(-20.6)">
<text x="0" y="0" textLength="174" lengthAdjust="spacingAndGlyphs" fill="#b4b4b4">PIECES BETA</text>
<text x="17.4" y="42.8" textLength="163" lengthAdjust="spacingAndGlyphs" fill="#b4b4b4">AZMOTORS</text>
</g>
<g transform="translate(340.3 630.0) skewY(-20.6)">
<text x="0" y="0" textLength="174" lengthAdjust="spacingAndGlyphs" fill="#b4b4b4">PIECES BETA</text>
<text x="17.4" y="42.8" textLength="163" lengthAdjust="spacingAndGlyphs" fill="#b4b4b4">AZMOTORS</text>
</g>
<g transform="translate(642.3 631.5) skewY(-20.6)">
<text x="0" y="0" textLength="174" lengthAdjust="spacingAndGlyphs" fill="#b4b4b4">PIECES BETA</text>
<text x="17.4" y="42.8" textLength="163" lengthAdjust="spacingAndGlyphs" fill="#b4b4b4">AZMOTORS</text>
</g></g>
<g class="wm"><g transform="translate(23.0 101.5) skewY(-20.6)">
<text x="0" y="0" textLength="174" lengthAdjust="spacingAndGlyphs" fill="#fff" fill-opacity="0.38">PIECES BETA</text>
<text x="17.4" y="42.8" textLength="163" lengthAdjust="spacingAndGlyphs" fill="#fff" fill-opacity="0.38">AZMOTORS</text>
</g>
<g transform="translate(341.8 100.7) skewY(-20.6)">
<text x="0" y="0" textLength="174" lengthAdjust="spacingAndGlyphs" fill="#fff" fill-opacity="0.38">PIECES BETA</text>
<text x="17.4" y="42.8" textLength="163" lengthAdjust="spacingAndGlyphs" fill="#fff" fill-opacity="0.38">AZMOTORS</text>
</g>
<g transform="translate(643.8 102.2) skewY(-20.6)">
<text x="0" y="0" textLength="174" lengthAdjust="spacingAndGlyphs" fill="#fff" fill-opacity="0.38">PIECES BETA</text>
<text x="17.4" y="42.8" textLength="163" lengthAdjust="spacingAndGlyphs" fill="#fff" fill-opacity="0.38">AZMOTORS</text>
</g>
<g transform="translate(23.0 366.7) skewY(-20.6)">
<text x="0" y="0" textLength="174" lengthAdjust="spacingAndGlyphs" fill="#fff" fill-opacity="0.38">PIECES BETA</text>
<text x="17.4" y="42.8" textLength="163" lengthAdjust="spacingAndGlyphs" fill="#fff" fill-opacity="0.38">AZMOTORS</text>
</g>
<g transform="translate(341.8 365.9) skewY(-20.6)">
<text x="0" y="0" textLength="174" lengthAdjust="spacingAndGlyphs" fill="#fff" fill-opacity="0.38">PIECES BETA</text>
<text x="17.4" y="42.8" textLength="163" lengthAdjust="spacingAndGlyphs" fill="#fff" fill-opacity="0.38">AZMOTORS</text>
</g>
<g transform="translate(643.8 367.4) skewY(-20.6)">
<text x="0" y="0" textLength="174" lengthAdjust="spacingAndGlyphs" fill="#fff" fill-opacity="0.38">PIECES BETA</text>
<text x="17.4" y="42.8" textLength="163" lengthAdjust="spacingAndGlyphs" fill="#fff" fill-opacity="0.38">AZMOTORS</text>
</g>
<g transform="translate(23.0 631.9) skewY(-20.6)">
<text x="0" y="0" textLength="174" lengthAdjust="spacingAndGlyphs" fill="#fff" fill-opacity="0.38">PIECES BETA</text>
<text x="17.4" y="42.8" textLength="163" lengthAdjust="spacingAndGlyphs" fill="#fff" fill-opacity="0.38">AZMOTORS</text>
</g>
<g transform="translate(341.8 631.1) skewY(-20.6)">
<text x="0" y="0" textLength="174" lengthAdjust="spacingAndGlyphs" fill="#fff" fill-opacity="0.38">PIECES BETA</text>
<text x="17.4" y="42.8" textLength="163" lengthAdjust="spacingAndGlyphs" fill="#fff" fill-opacity="0.38">AZMOTORS</text>
</g>
<g transform="translate(643.8 632.6) skewY(-20.6)">
<text x="0" y="0" textLength="174" lengthAdjust="spacingAndGlyphs" fill="#fff" fill-opacity="0.38">PIECES BETA</text>
<text x="17.4" y="42.8" textLength="163" lengthAdjust="spacingAndGlyphs" fill="#fff" fill-opacity="0.38">AZMOTORS</text>
</g></g>
</svg>
</body></html>
